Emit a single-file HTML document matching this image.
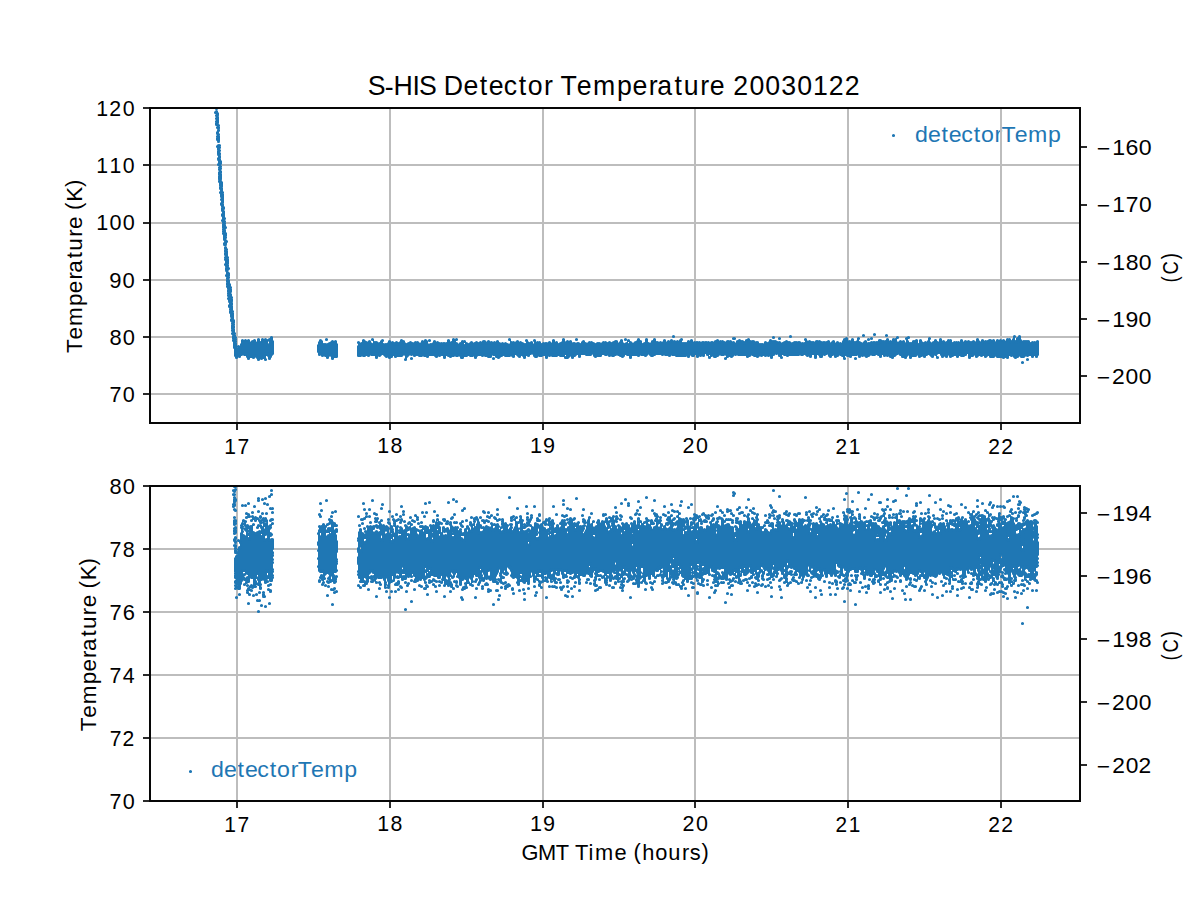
<!DOCTYPE html>
<html><head><meta charset="utf-8"><title>S-HIS Detector Temperature 20030122</title>
<style>html,body{margin:0;padding:0;background:#fff;overflow:hidden}svg{display:block}text{font-family:"Liberation Sans",sans-serif;font-size:100px}</style></head>
<body><svg width="1200" height="900" viewBox="0 0 1200 900">
<defs><clipPath id="ct"><rect x="150" y="108" width="930" height="315"/></clipPath><clipPath id="cb"><rect x="150" y="486" width="930" height="315"/></clipPath></defs>
<rect width="1200" height="900" fill="#fff"/>
<g><text transform="matrix(0.23125 0 0 0.21351 916 142.41)" x="-4.81 51.79 110.3 142 195.6 249.7 281 339.5 369.8 427.6 484.9 571" y="0" fill="#1f77b4">detectorTemp</text><text transform="matrix(0.23141 0 0 0.21351 212.1 777.41)" x="-4.81 51.79 110.3 142 195.6 249.7 281 339.5 369.8 427.6 484.9 571" y="0" fill="#1f77b4">detectorTemp</text></g>
<path fill="#bdbdbd" d="M236 108h2V423h-2zM389 108h2V423h-2zM542 108h2V423h-2zM694 108h2V423h-2zM847 108h2V423h-2zM1000 108h2V423h-2zM150 164H1079v2H150zM150 222H1079v2H150zM150 279H1079v2H150zM150 336H1079v2H150zM150 393H1079v2H150zM236 486h2V801h-2zM389 486h2V801h-2zM542 486h2V801h-2zM694 486h2V801h-2zM847 486h2V801h-2zM1000 486h2V801h-2zM150 548H1079v2H150zM150 611H1079v2H150zM150 674H1079v2H150zM150 737H1079v2H150z"/>
<g clip-path="url(#ct)"><path fill="#1f77b4" d="M238 347h1h1V345h1V341h1h1h1h1h1h1h1h1h1V343h1V342h1h1V341h1h1h1V343h1V340h1h1h1V343h1V340h1h1h1h1h1h1V341h1V345h1V340h1V338h1h1h1V342h1V353h-1V354h-1V356h-1V358h-1h-1h-1V355h-1V354h-1V359h-1h-1V357h-1V358h-1h-1h-1V359h-1h-1h-1V357h-1V356h-1V357h-1h-1h-1V356h-1h-1V358h-1h-1h-1V356h-1V354h-1h-1h-1h-1h-1V356h-1h-1h-1zM317 346h1V343h1V341h1h1h1V342h1V345h1h1h1h1h1V344h1h1V343h1V342h1h1h1h1h1h1V345h1V356h-1h-1h-1h-1V358h-1h-1h-1V355h-1h-1V357h-1h-1h-1V355h-1h-1h-1h-1h-1V354h-1h-1h-1V351h-1zM357 347h1V343h1h1V344h1h1V341h1h1h1V342h1V343h1h1V342h1h1h1V344h1V345h1V340h1V343h1h1h1h1V344h1h1V342h1V341h1h1V345h1h1h1h1V344h1V342h1h1h1V343h1h1h1V344h1V343h1h1h1V344h1V343h1V341h1h1h1V342h1h1V344h1V345h1V344h1h1V343h1h1h1V344h1h1V343h1h1h1h1h1V344h1h1V342h1h1h1V341h1h1h1V342h1V345h1h1h1h1V344h1V342h1h1h1V343h1h1h1V344h1h1h1h1h1h1h1h1V341h1h1h1V343h1h1V340h1h1h1h1V344h1h1V345h1V344h1h1V342h1h1h1V346h1V342h1V344h1h1V345h1V344h1V343h1h1h1V344h1h1V343h1h1h1V344h1V343h1h1h1V342h1h1h1h1V343h1V342h1h1h1V343h1h1h1h1h1h1V342h1h1h1V344h1h1h1h1h1h1h1h1V345h1h1h1V340h1V343h1h1h1h1h1V342h1h1h1V343h1h1h1V344h1h1V345h1h1V341h1h1V343h1V344h1V343h1h1h1V345h1V341h1h1V343h1h1h1h1h1V345h1V344h1h1h1h1h1h1V343h1h1h1V344h1V341h1h1h1V343h1h1h1V345h1V344h1h1V343h1V340h1h1h1V343h1V342h1h1h1h1h1h1V344h1h1h1h1h1h1h1h1V345h1V343h1V342h1h1h1V344h1h1h1V343h1h1h1h1h1V344h1h1V345h1V344h1h1h1h1h1h1V343h1h1h1h1h1V344h1V343h1h1h1V344h1V343h1h1V342h1h1h1h1V344h1V343h1V341h1h1h1V344h1V345h1V344h1h1V341h1V345h1V341h1V343h1h1V344h1h1V343h1h1V342h1V340h1h1h1V342h1h1V345h1V344h1h1V340h1h1h1V344h1h1h1V342h1h1V340h1h1h1V343h1h1h1h1h1h1h1V341h1h1h1V343h1V342h1h1h1V341h1h1h1V342h1h1h1h1h1h1V341h1V340h1h1V344h1h1h1h1h1V342h1h1h1V341h1h1h1V343h1h1h1h1h1h1h1h1h1h1h1h1h1h1h1h1h1h1h1h1h1V342h1h1V341h1h1h1V342h1h1h1h1h1V343h1h1V342h1h1h1h1h1h1V343h1h1h1V344h1V342h1h1V341h1h1h1V342h1h1h1V343h1V341h1h1V340h1h1h1V342h1h1h1h1h1V343h1h1h1h1V345h1h1h1h1h1V343h1h1h1V344h1V343h1V341h1h1h1V342h1h1h1h1h1V343h1h1h1h1V344h1h1V343h1h1V342h1h1h1V343h1h1h1V344h1h1V343h1h1h1h1h1h1h1h1V344h1h1h1h1V340h1h1V342h1h1h1h1V343h1h1h1h1V342h1h1h1h1h1h1V343h1h1h1h1h1h1V342h1h1h1V344h1V343h1V342h1h1h1V344h1V343h1h1h1V344h1h1h1V342h1V340h1h1V339h1h1h1V342h1h1h1V340h1h1h1V343h1h1V342h1V339h1h1V343h1h1V344h1h1V343h1V342h1h1h1V344h1h1h1V343h1h1h1h1h1h1h1h1V341h1h1h1h1V342h1h1h1h1V340h1h1h1V342h1h1h1V340h1h1h1h1V338h1V343h1h1V342h1h1h1h1h1h1V344h1V339h1V338h1V342h1V344h1h1h1V342h1h1h1V341h1h1h1V345h1V341h1h1h1V343h1V344h1V343h1h1h1V342h1V339h1h1V343h1V344h1V343h1h1V341h1h1h1V343h1h1V340h1h1h1V342h1h1h1V343h1h1V341h1h1h1h1h1V344h1V343h1h1h1h1h1h1h1V341h1h1h1V343h1V342h1h1h1h1h1h1V343h1h1V342h1h1h1V343h1V340h1h1h1V342h1V343h1V341h1h1h1V342h1h1h1h1V341h1h1h1h1h1h1h1V343h1V341h1h1h1h1h1h1h1h1h1V342h1V340h1h1h1h1h1V342h1V340h1V337h1h1V342h1V339h1h1V337h1h1h1V341h1V342h1h1h1h1h1h1h1h1V344h1V343h1h1h1h1h1V342h1h1h1V354h-1V356h-1h-1h-1V354h-1V356h-1h-1h-1V354h-1h-1V355h-1h-1h-1h-1V356h-1h-1h-1h-1h-1V355h-1V356h-1h-1V357h-1h-1h-1V356h-1V355h-1h-1h-1V354h-1V357h-1h-1h-1V356h-1V357h-1h-1h-1V356h-1h-1h-1h-1h-1h-1V355h-1V356h-1h-1h-1h-1h-1h-1V354h-1V355h-1V356h-1h-1h-1V354h-1V355h-1h-1h-1V354h-1V355h-1V356h-1h-1h-1V354h-1V355h-1h-1h-1V357h-1h-1h-1V352h-1V354h-1h-1V355h-1h-1h-1h-1h-1V354h-1V356h-1h-1h-1V354h-1h-1V355h-1h-1V356h-1h-1h-1V354h-1V356h-1h-1h-1V355h-1V356h-1h-1h-1V354h-1V352h-1h-1V353h-1V357h-1V354h-1h-1V356h-1h-1h-1V355h-1V354h-1V353h-1V354h-1h-1V356h-1h-1h-1V355h-1h-1V356h-1h-1h-1V354h-1V355h-1h-1h-1h-1h-1V357h-1h-1h-1V354h-1V355h-1V357h-1h-1h-1V356h-1h-1h-1V354h-1h-1V353h-1h-1V354h-1V355h-1h-1V357h-1h-1h-1V356h-1h-1V355h-1h-1h-1h-1h-1h-1V353h-1V356h-1h-1h-1V354h-1h-1V353h-1V354h-1h-1h-1h-1h-1h-1V355h-1h-1V356h-1h-1h-1V355h-1h-1h-1h-1V356h-1h-1h-1V354h-1h-1h-1h-1h-1h-1V356h-1h-1h-1V355h-1h-1h-1V354h-1V358h-1h-1V355h-1h-1V354h-1h-1V355h-1h-1V356h-1h-1h-1V354h-1h-1V356h-1h-1h-1V355h-1V353h-1h-1V354h-1h-1h-1V356h-1h-1h-1h-1V354h-1V353h-1V357h-1h-1h-1V353h-1h-1V356h-1h-1h-1V355h-1h-1h-1V354h-1V353h-1V354h-1h-1h-1h-1h-1h-1h-1h-1h-1h-1h-1h-1h-1h-1h-1V355h-1h-1h-1V354h-1h-1h-1V353h-1V357h-1h-1V355h-1h-1V353h-1h-1h-1V354h-1h-1V357h-1h-1h-1V355h-1h-1h-1h-1h-1h-1V354h-1V355h-1h-1h-1h-1V356h-1h-1h-1V355h-1h-1h-1V354h-1h-1V355h-1h-1V356h-1h-1h-1V354h-1h-1h-1h-1h-1h-1h-1h-1h-1h-1h-1h-1V355h-1V356h-1h-1h-1V355h-1V356h-1h-1V358h-1V354h-1h-1h-1h-1h-1h-1h-1V355h-1h-1V356h-1h-1h-1h-1V355h-1h-1V357h-1V353h-1V357h-1V354h-1h-1V352h-1V355h-1h-1h-1h-1h-1h-1V356h-1h-1h-1V353h-1V355h-1h-1h-1h-1V354h-1V356h-1h-1h-1V355h-1h-1h-1h-1h-1h-1h-1h-1h-1h-1h-1h-1V354h-1h-1h-1h-1V355h-1h-1h-1V354h-1h-1h-1h-1h-1h-1h-1V353h-1h-1h-1h-1h-1V354h-1h-1V355h-1h-1h-1h-1V354h-1V353h-1V354h-1V355h-1h-1h-1V354h-1h-1h-1h-1V355h-1h-1h-1V354h-1h-1h-1h-1h-1V357h-1h-1h-1V354h-1h-1h-1V353h-1V355h-1V356h-1h-1h-1V355h-1h-1V354h-1h-1h-1h-1V355h-1h-1h-1h-1h-1h-1h-1V354h-1h-1h-1h-1V353h-1h-1V355h-1h-1h-1h-1h-1V356h-1h-1h-1V355h-1V353h-1V354h-1h-1h-1h-1h-1h-1h-1V353h-1h-1h-1h-1V356h-1h-1h-1V353h-1V354h-1V355h-1h-1V357h-1h-1h-1V355h-1V356h-1V357h-1h-1h-1V353h-1V357h-1V355h-1h-1h-1h-1h-1V354h-1V355h-1h-1h-1h-1h-1h-1h-1h-1h-1h-1V357h-1h-1h-1V354h-1h-1V355h-1h-1h-1h-1h-1V356h-1h-1h-1h-1V355h-1V353h-1h-1h-1V355h-1h-1h-1V354h-1V357h-1h-1h-1V355h-1V354h-1V356h-1h-1h-1V355h-1V354h-1V353h-1V356h-1h-1h-1V355h-1h-1h-1h-1h-1h-1h-1h-1V354h-1V355h-1h-1V356h-1V357h-1h-1h-1V356h-1h-1V354h-1h-1h-1V356h-1h-1h-1h-1h-1V355h-1h-1h-1h-1h-1h-1V354h-1h-1h-1V355h-1V357h-1h-1h-1V355h-1h-1h-1h-1h-1V354h-1V355h-1h-1h-1h-1V357h-1h-1h-1h-1V355h-1h-1h-1h-1h-1h-1h-1h-1V356h-1h-1h-1V355h-1h-1V354h-1V357h-1h-1h-1V354h-1h-1V355h-1h-1h-1V356h-1h-1h-1V355h-1V354h-1h-1h-1h-1h-1V356h-1h-1h-1V355h-1h-1h-1h-1h-1h-1h-1h-1V354h-1h-1V355h-1h-1h-1V354h-1h-1h-1h-1V355h-1V356h-1V359h-1h-1V354h-1h-1V355h-1h-1h-1h-1h-1h-1V356h-1h-1h-1V354h-1V356h-1h-1V357h-1h-1h-1V356h-1h-1h-1V355h-1V354h-1V353h-1V354h-1V355h-1h-1h-1V357h-1h-1h-1V354h-1h-1h-1h-1h-1V355h-1h-1h-1V354h-1V355h-1h-1h-1h-1h-1h-1h-1h-1h-1z"/><path fill="none" stroke="#1f77b4" stroke-width="3.2" stroke-linecap="round" d="M215.5 112.5h0m1-4h0m0 3h0m0 1h0m0 3h0m0 3h0m0 3h0m0 2h0m0 1h0m1-17h0m0 6h0m0 1h0m0 1h0m0 2h0m0 1h0m0 1h0m0 1h0m0 1h0m0 1h0m0 2h0m0 3h0m0 5h0m0 1h0m0 3h0m0 2h0m0 1h0m0 7h0m1-21h0m0 2h0m0 1h0m0 2h0m0 4h0m0 2h0m0 1h0m0 1h0m0 1h0m0 1h0m0 1h0m0 4h0m0 2h0m0 1h0m0 1h0m0 2h0m0 1h0m0 1h0m0 1h0m0 4h0m0 1h0m0 5h0m1-19h0m0 2h0m0 3h0m0 3h0m0 1h0m0 2h0m0 1h0m0 2h0m0 2h0m0 1h0m0 2h0m0 3h0m0 2h0m0 3h0m0 1h0m0 1h0m0 2h0m0 1h0m0 1h0m0 1h0m0 2h0m1-20h0m0 1h0m0 1h0m0 3h0m0 2h0m0 3h0m0 1h0m0 2h0m0 1h0m0 1h0m0 1h0m0 1h0m0 1h0m0 2h0m0 2h0m0 1h0m0 1h0m0 2h0m0 1h0m0 4h0m1-10h0m0 1h0m0 1h0m0 1h0m0 1h0m0 2h0m0 1h0m0 1h0m0 1h0m0 2h0m0 1h0m0 1h0m0 1h0m0 3h0m0 4h0m0 1h0m1-12h0m0 2h0m0 1h0m0 1h0m0 1h0m0 1h0m0 1h0m0 1h0m0 1h0m0 1h0m0 2h0m0 1h0m0 1h0m0 2h0m0 1h0m0 1h0m0 4h0m0 1h0m0 5h0m1-13h0m0 1h0m0 3h0m0 1h0m0 1h0m0 1h0m0 1h0m0 1h0m0 1h0m0 1h0m0 1h0m0 1h0m0 1h0m0 1h0m0 2h0m0 1h0m0 1h0m0 1h0m0 2h0m0 2h0m0 2h0m1-15h0m0 3h0m0 2h0m0 2h0m0 1h0m0 1h0m0 1h0m0 2h0m0 1h0m0 1h0m0 1h0m0 2h0m0 1h0m0 1h0m0 1h0m0 1h0m0 4h0m0 1h0m1-17h0m0 6h0m0 1h0m0 1h0m0 2h0m0 3h0m0 1h0m0 2h0m0 1h0m0 3h0m0 1h0m0 2h0m0 1h0m0 2h0m0 1h0m0 3h0m0 2h0m0 5h0m1-23h0m0 8h0m0 2h0m0 1h0m0 1h0m0 1h0m0 1h0m0 1h0m0 1h0m0 1h0m0 1h0m0 2h0m0 1h0m0 2h0m0 1h0m0 1h0m0 2h0m0 1h0m0 1h0m0 5h0m1-18h0m0 2h0m0 1h0m0 1h0m0 1h0m0 1h0m0 2h0m0 1h0m0 2h0m0 1h0m0 3h0m0 1h0m0 1h0m0 1h0m0 1h0m0 2h0m0 2h0m0 1h0m0 2h0m0 1h0m0 2h0m1-18h0m0 5h0m0 1h0m0 1h0m0 2h0m0 3h0m0 1h0m0 1h0m0 1h0m0 2h0m0 1h0m0 2h0m0 2h0m0 1h0m0 2h0m0 2h0m0 3h0m1-14h0m0 1h0m0 1h0m0 1h0m0 2h0m0 1h0m0 1h0m0 1h0m0 1h0m0 1h0m0 2h0m0 1h0m0 1h0m0 1h0m0 1h0m0 1h0m0 4h0m0 1h0m1-19h0m0 2h0m0 1h0m0 1h0m0 3h0m0 1h0m0 1h0m0 1h0m0 1h0m0 2h0m0 1h0m0 2h0m0 3h0m0 1h0m0 2h0m0 2h0m0 1h0m1-15h0m0 2h0m0 1h0m0 1h0m0 2h0m0 1h0m0 2h0m0 1h0m0 1h0m0 1h0m0 1h0m0 1h0m0 1h0m0 1h0m0 1h0m0 1h0m0 1h0m0 3h0m0 1h0m1-9h0m0 2h0m0 1h0m0 1h0m0 1h0m0 1h0m0 1h0m0 1h0m0 1h0m0 1h0m0 2h0m0 2h0m0 1h0m0 1h0m0 1h0m0 2h0m0 3h0m1-13h0m0 1h0m0 1h0m0 2h0m0 2h0m0 1h0m0 2h0m0 1h0m0 1h0m0 1h0m0 2h0m0 2h0m0 1h0m0 1h0m0 2h0m1-7h0m0 2h0m0 1h0m0 1h0m0 1h0m0 1h0m0 1h0m0 1h0m0 1h0m0 1h0m0 1h0m0 1h0m0 1h0m0 1h0m1-10h0m0 2h0m0 2h0m0 2h0m0 1h0m0 1h0m0 1h0m0 1h0m0 1h0m0 1h0m0 1h0m0 1h0m0 1h0m0 1h0m0 1h0m0 1h0m1-6h0m0 1h0m0 1h0m0 1h0m0 1h0m0 1h0m0 1h0m0 2h0m1-8h0m0 1h0m0 1h0m0 1h0m0 1h0m0 1h0m0 1h0m1-9h0m0 2h0m0 1h0m0 1h0m0 1h0m0 1h0m0 1h0m0 2h0m1 0h0m0 1h0m1-9h0m0 6h0m0 1h0m1-10h0m0 1h0m0 8h0m0 1h0m1-14h0m0 13h0m1 0h0m1 0h0m0 1h0m1-14h0m1 13h0m0 1h0m1 1h0m0 1h0m1-16h0m0 18h0m1-16h0m0 13h0m0 1h0m1-1h0m1-12h0m0 12h0m0 1h0m1-15h0m0 1h0m0 13h0m1 2h0m1-17h0m0 15h0m1-13h0m0 1h0m0 12h0m1 1h0m1-13h0m0 14h0m1-18h0m0 20h0m1-16h0m0 14h0m1-15h0m0 1h0m1 0h0m0 15h0m1-19h0m1 17h0m0 1h0m1-17h0m0 17h0m1-18h0m0 14h0m0 1h0m0 5h0m1-6h0m1-13h0m0 4h0m0 1h0m0 8h0m0 1h0m1-9h0m0 10h0m1-16h0m0 5h0m0 14h0m1-3h0m0 1h0m1-19h0m0 1h0m0 15h0m0 1h0m1-13h0m0 11h0m0 1h0m46-8h0m0 5h0m0 1h0m1-9h0m0 12h0m1-14h0m0 13h0m1-12h0m0 12h0m1-9h0m0 1h0m0 9h0m0 1h0m1-11h0m0 1h0m0 9h0m1-10h0m0 1h0m1-1h0m0 11h0m1-16h0m0 6h0m1-1h0m0 1h0m0 12h0m1-13h0m0 1h0m0 9h0m0 1h0m1-12h0m0 1h0m0 10h0m1-11h0m0 1h0m0 10h0m1-12h0m0 1h0m0 11h0m0 1h0m1-14h0m0 17h0m1-3h0m1 0h0m0 1h0m1-15h0m1 3h0m0 1h0m0 11h0m22-14h0m0 4h0m0 1h0m0 8h0m1-11h0m1 10h0m0 1h0m1-12h0m1 0h0m0 11h0m1-14h0m0 14h0m0 1h0m1-14h0m0 13h0m0 1h0m1-2h0m0 1h0m1-12h0m0 11h0m0 1h0m1-1h0m0 1h0m1 1h0m1-14h0m0 1h0m0 11h0m1-10h0m0 1h0m1 1h0m0 8h0m0 1h0m1-15h0m0 5h0m0 1h0m0 9h0m1-10h0m0 1h0m0 8h0m0 1h0m1-12h0m0 11h0m0 1h0m1-12h0m0 1h0m0 10h0m1-11h0m0 1h0m0 14h0m1-14h0m0 1h0m1 0h0m1-1h0m0 11h0m0 1h0m1-11h0m0 9h0m0 1h0m1-13h0m0 11h0m0 1h0m1-13h0m0 4h0m0 8h0m1-8h0m0 1h0m0 7h0m0 1h0m1-8h0m0 8h0m0 1h0m1-10h0m0 10h0m0 1h0m1-11h0m0 1h0m0 11h0m1-12h0m0 1h0m1-2h0m0 12h0m1-14h0m0 16h0m2-1h0m1-14h0m0 11h0m1-10h0m0 10h0m0 1h0m1-11h0m0 1h0m0 9h0m1 2h0m0 1h0m1-14h0m0 1h0m0 11h0m1-10h0m0 11h0m1-12h0m0 11h0m0 1h0m2-13h0m0 1h0m0 12h0m1-15h0m0 15h0m1-2h0m0 1h0m1-13h0m0 1h0m0 11h0m1-10h0m0 10h0m1-9h0m0 1h0m0 8h0m0 1h0m0 5h0m1-15h0m0 1h0m0 11h0m1-11h0m0 10h0m1-12h0m0 1h0m0 9h0m0 1h0m1-11h0m0 1h0m1-2h0m0 11h0m1-9h0m0 9h0m0 1h0m0 4h0m1-15h0m0 1h0m1 0h0m1-1h0m0 1h0m0 10h0m0 1h0m1-13h0m0 12h0m1-1h0m1-11h0m0 1h0m0 10h0m0 1h0m1-11h0m0 10h0m1 2h0m1-11h0m0 10h0m1-11h0m0 1h0m0 11h0m1-14h0m2 1h0m0 12h0m0 1h0m1-15h0m0 14h0m0 1h0m1-14h0m0 14h0m1-11h0m0 1h0m0 10h0m0 1h0m1-11h0m0 8h0m1-13h0m0 5h0m0 8h0m0 1h0m1-10h0m0 1h0m0 8h0m1-9h0m0 1h0m0 8h0m0 1h0m1-9h0m0 8h0m1-10h0m0 1h0m0 9h0m0 1h0m1-13h0m0 12h0m0 1h0m1 1h0m1-12h0m0 13h0m1-14h0m0 1h0m1 1h0m1-1h0m0 1h0m0 10h0m0 1h0m2-12h0m0 10h0m0 1h0m1 0h0m1-11h0m0 1h0m0 9h0m0 1h0m1-11h0m0 14h0m1-4h0m0 1h0m1-11h0m0 11h0m1-11h0m0 1h0m1-4h0m0 14h0m0 1h0m1-1h0m1-11h0m0 13h0m1-14h0m0 13h0m1-13h0m1-3h0m0 16h0m1-1h0m1-10h0m1-5h0m0 4h0m0 11h0m0 1h0m1-11h0m0 1h0m0 10h0m1-10h0m1 0h0m1-2h0m0 1h0m0 10h0m0 1h0m1-11h0m0 13h0m1-16h0m0 16h0m1-12h0m0 1h0m0 9h0m1-14h0m0 4h0m0 1h0m0 9h0m1-10h0m0 1h0m0 8h0m0 1h0m1-12h0m0 12h0m1-11h0m0 9h0m0 1h0m1-10h0m0 1h0m0 8h0m0 1h0m1-9h0m0 8h0m1-10h0m0 1h0m0 11h0m1-13h0m1 2h0m0 10h0m0 1h0m1-11h0m1-1h0m1 1h0m0 13h0m1-15h0m0 12h0m0 1h0m1-12h0m0 1h0m1-1h0m0 1h0m0 9h0m0 1h0m1-10h0m0 9h0m0 1h0m1-12h0m0 12h0m1-1h0m1-10h0m0 11h0m0 1h0m1-14h0m0 13h0m1-13h0m1 13h0m0 1h0m1-12h0m0 11h0m1-12h0m0 13h0m1-14h0m0 14h0m0 1h0m1-14h0m1 14h0m1-14h0m0 1h0m0 10h0m2 1h0m0 4h0m1-16h0m0 11h0m1-10h0m0 10h0m0 1h0m1 2h0m1-15h0m0 1h0m0 14h0m1-12h0m0 13h0m1-14h0m0 13h0m1-2h0m1-10h0m0 10h0m0 1h0m1-12h0m0 1h0m0 9h0m1-9h0m0 9h0m0 1h0m1-10h0m1-1h0m0 1h0m0 10h0m0 1h0m1-11h0m0 1h0m0 10h0m1-11h0m0 1h0m0 10h0m1-10h0m0 10h0m1-16h0m0 6h0m0 10h0m1-11h0m0 1h0m1-3h0m0 1h0m1 12h0m1-13h0m0 14h0m1-13h0m0 9h0m1 0h0m0 1h0m1-11h0m0 1h0m0 10h0m1-12h0m0 12h0m0 1h0m1-11h0m0 11h0m0 1h0m1 1h0m1-14h0m0 1h0m0 10h0m0 1h0m1-11h0m0 1h0m1-1h0m0 10h0m0 1h0m1-10h0m0 1h0m0 9h0m0 1h0m1-11h0m0 1h0m0 11h0m0 1h0m1-13h0m0 1h0m0 8h0m1-13h0m0 5h0m0 8h0m0 1h0m1-12h0m0 1h0m0 10h0m1-10h0m0 1h0m0 10h0m0 1h0m1-12h0m0 9h0m0 1h0m1-10h0m0 1h0m0 9h0m1-11h0m1 2h0m0 1h0m0 7h0m1-7h0m0 7h0m0 1h0m1-13h0m0 5h0m0 9h0m0 1h0m1-12h0m0 13h0m1 0h0m1-14h0m0 1h0m0 11h0m2-12h0m0 1h0m0 11h0m0 1h0m1-11h0m0 1h0m0 9h0m1-10h0m0 1h0m0 10h0m1-11h0m0 1h0m0 8h0m0 1h0m1-11h0m0 1h0m0 9h0m0 1h0m1-10h0m1-1h0m0 1h0m0 9h0m0 1h0m1-11h0m0 14h0m1-3h0m1-11h0m0 1h0m1-2h0m0 1h0m0 12h0m1-11h0m1 0h0m0 10h0m1-11h0m0 1h0m0 11h0m1-15h0m1 14h0m0 1h0m1-1h0m1-12h0m0 12h0m0 1h0m1-11h0m0 1h0m0 8h0m1-9h0m0 1h0m0 8h0m0 1h0m1-9h0m0 9h0m1-11h0m0 1h0m0 10h0m0 1h0m1-12h0m0 1h0m0 11h0m1-13h0m0 1h0m0 12h0m1-16h0m0 1h0m0 15h0m1-13h0m0 1h0m0 9h0m0 1h0m1-10h0m0 9h0m0 1h0m0 4h0m1-15h0m0 10h0m0 1h0m1-12h0m0 16h0m1-1h0m2-15h0m0 1h0m1 1h0m0 1h0m0 11h0m1-11h0m0 13h0m1-14h0m0 1h0m1-1h0m0 1h0m0 11h0m1-11h0m0 9h0m0 1h0m1-15h0m0 13h0m1-9h0m0 1h0m0 8h0m0 1h0m1-10h0m0 1h0m0 8h0m0 1h0m1-9h0m0 1h0m0 11h0m1-12h0m0 1h0m0 7h0m1-8h0m0 1h0m0 7h0m0 1h0m1-11h0m0 10h0m1-11h0m0 11h0m0 1h0m1-10h0m0 1h0m0 8h0m0 1h0m1-10h0m0 9h0m0 1h0m1 1h0m1-10h0m0 10h0m1-11h0m0 1h0m0 9h0m0 1h0m1-12h0m1 11h0m0 1h0m1-12h0m0 10h0m0 1h0m1-9h0m0 8h0m1-9h0m0 1h0m0 8h0m1-7h0m0 9h0m0 1h0m1-11h0m0 1h0m0 10h0m0 1h0m1-12h0m0 11h0m1-12h0m0 1h0m0 11h0m1-12h0m0 1h0m1-1h0m0 1h0m0 10h0m0 1h0m1-11h0m0 11h0m1-11h0m1-1h0m0 1h0m0 8h0m0 1h0m1-11h0m0 1h0m0 9h0m0 1h0m1-1h0m1-10h0m0 1h0m0 10h0m0 1h0m1-11h0m0 1h0m0 9h0m0 1h0m1-11h0m0 10h0m1-10h0m0 1h0m1-2h0m0 1h0m0 12h0m1-1h0m1-11h0m1 0h0m0 1h0m0 11h0m1-13h0m0 1h0m0 12h0m2-14h0m0 12h0m0 1h0m1-13h0m0 1h0m0 11h0m1-10h0m0 10h0m1-9h0m0 10h0m1-10h0m0 9h0m1-11h0m0 1h0m0 12h0m1-15h0m0 14h0m1-11h0m0 1h0m0 11h0m0 1h0m1-12h0m0 1h0m0 9h0m0 1h0m1-11h0m0 1h0m0 7h0m0 1h0m1-14h0m0 5h0m0 1h0m0 7h0m1-9h0m0 1h0m0 8h0m0 1h0m1-9h0m0 1h0m0 9h0m1-14h0m0 4h0m0 1h0m0 8h0m0 1h0m1-10h0m0 1h0m0 8h0m1-11h0m0 15h0m1-14h0m0 1h0m0 9h0m0 1h0m1-10h0m1 0h0m0 9h0m0 1h0m1-11h0m0 1h0m0 9h0m1-11h0m0 12h0m1-12h0m0 11h0m0 1h0m1-13h0m0 12h0m0 1h0m1-15h0m0 15h0m0 1h0m1-13h0m0 11h0m1-12h0m0 12h0m1-8h0m0 9h0m1-10h0m0 1h0m0 8h0m1-9h0m0 1h0m0 9h0m1-11h0m0 1h0m0 9h0m0 1h0m1 0h0m0 1h0m1-16h0m0 14h0m0 1h0m1-10h0m0 8h0m1-9h0m0 1h0m0 8h0m1-8h0m0 9h0m1-9h0m0 10h0m1-11h0m0 1h0m0 11h0m1-14h0m0 13h0m0 1h0m1-2h0m1-14h0m0 15h0m1-12h0m0 1h0m0 10h0m1-11h0m0 10h0m1-10h0m0 1h0m0 9h0m0 1h0m1-10h0m0 9h0m0 1h0m1-10h0m0 9h0m1-10h0m0 1h0m0 10h0m1-1h0m0 1h0m1 0h0m0 1h0m1-12h0m0 11h0m1-13h0m1 2h0m0 11h0m0 1h0m1-11h0m0 10h0m0 1h0m1-11h0m0 10h0m1-12h0m0 1h0m0 12h0m1-12h0m0 12h0m0 1h0m1-2h0m1-13h0m1 1h0m0 12h0m0 1h0m1-18h0m0 17h0m0 1h0m1-13h0m0 12h0m1 0h0m0 1h0m1 1h0m1-14h0m0 1h0m1 13h0m1-13h0m1-2h0m0 15h0m1-16h0m0 4h0m0 1h0m0 11h0m1-12h0m0 1h0m0 10h0m1-11h0m0 1h0m0 10h0m0 1h0m1-12h0m0 1h0m1-1h0m0 1h0m0 11h0m1-12h0m0 1h0m1-1h0m0 1h0m0 10h0m1-13h0m0 15h0m1-3h0m1 0h0m1-13h0m0 13h0m0 1h0m1-11h0m0 12h0m1-12h0m0 11h0m0 1h0m1-13h0m0 10h0m1-9h0m0 9h0m0 1h0m1-11h0m0 10h0m0 1h0m1-11h0m0 1h0m0 13h0m1-2h0m1-12h0m0 1h0m1 0h0m0 12h0m1-12h0m0 11h0m1-12h0m0 12h0m1-12h0m0 12h0m0 1h0m1-12h0m0 8h0m0 1h0m1-10h0m0 1h0m0 8h0m0 1h0m1-10h0m0 1h0m0 8h0m0 1h0m1 2h0m1-12h0m0 10h0m1 1h0m0 4h0m1-14h0m1-1h0m0 13h0m1-13h0m0 1h0m1 0h0m0 11h0m1 2h0m1-15h0m0 14h0m0 1h0m2-16h0m0 14h0m0 1h0m1-2h0m0 1h0m1-12h0m0 11h0m1-12h0m1 12h0m0 1h0m1-13h0m0 12h0m1 0h0m0 1h0m1-12h0m0 1h0m1 15h0m1-15h0m0 10h0m0 1h0m1-13h0m0 15h0m1-15h0m0 13h0m1 0h0m0 1h0m1-14h0m0 13h0m1-12h0m0 13h0m0 1h0m1-13h0m0 11h0m0 1h0m1-17h0m0 4h0m0 11h0m1-15h0m0 15h0m1-9h0m0 10h0m1-11h0m0 1h0m0 9h0m1-12h0m0 1h0m1 11h0m0 1h0m1-14h0m0 14h0m1-1h0m0 1h0m1-13h0m0 13h0m1-13h0m1 13h0m1-12h0m0 1h0m0 10h0m1 0h0m0 1h0m1-14h0m0 14h0m1 2h0m1-17h0m1 16h0m1-14h0m1 12h0m1-12h0m0 1h0m0 12h0m1-13h0m0 12h0m1-11h0m0 1h0m0 12h0m1-12h0m0 11h0m1-12h0m0 1h0m0 12h0m1-13h0m0 1h0m0 13h0m1-12h0m0 1h0m0 9h0m0 1h0m1-11h0m0 1h0m1-1h0m0 1h0m1-1h0m0 11h0m1-11h0m0 1h0m0 8h0m0 1h0m1-9h0m0 8h0m0 1h0m1-10h0m0 1h0m1-3h0m0 1h0m0 12h0m1-12h0m1 0h0m0 11h0m1-11h0m0 12h0m1-13h0m1-2h0m0 14h0m1-13h0m0 16h0m1-16h0m0 12h0m1-16h0m0 4h0m0 1h0m0 11h0m0 1h0m1-13h0m0 1h0m0 10h0m1-11h0m0 11h0m1 0h0m0 1h0m1-11h0m0 1h0m0 9h0m1-9h0m0 9h0m1-14h0m0 4h0m0 1h0m0 11h0m0 1h0m1-1h0m0 1h0m1-11h0m0 8h0m0 1h0m0 4h0m1-14h0m0 1h0m0 8h0m0 1h0m1-10h0m0 1h0m0 8h0m1-10h0m0 11h0m0 1h0m1-1h0m1-12h0m0 1h0m0 11h0m0 1h0m1-11h0m0 12h0m1-13h0m0 1h0m0 11h0m1-12h0m0 1h0m1-7h0m0 7h0m0 1h0m0 9h0m0 1h0m1-10h0m0 9h0m1-10h0m0 1h0m0 10h0m1-1h0m0 1h0m1-12h0m0 1h0m0 10h0m0 1h0m1-12h0m0 1h0m1-1h0m0 11h0m0 1h0m1-11h0m1-1h0m0 12h0m1-12h0m0 1h0m0 10h0m1-10h0m0 1h0m0 9h0m1-9h0m0 10h0m1-11h0m0 1h0m0 9h0m0 1h0m1-10h0m0 9h0m1-10h0m0 1h0m0 8h0m0 1h0m1-14h0m0 5h0m0 8h0m1-11h0m0 1h0m0 12h0m1 1h0m1-13h0m1-1h0m0 13h0m1-11h0m0 13h0m1-14h0m0 10h0m0 1h0m1-11h0m0 10h0m0 1h0m1-11h0m0 1h0m0 10h0m1-1h0m0 1h0m1 4h0m1-16h0m0 1h0m0 10h0m0 1h0m1-12h0m0 11h0m0 1h0m1 0h0m1-12h0m0 12h0m0 1h0m1-11h0m0 13h0m1-14h0m0 1h0m0 13h0m1-3h0m1-11h0m1 0h0m0 1h0m0 11h0m1-2h0m1-10h0m0 1h0m0 9h0m0 1h0m1-11h0m0 10h0m1-11h0m0 11h0m1-9h0m0 1h0m0 10h0m0 1h0m1-11h0m0 12h0m1-13h0m0 1h0m0 9h0m1-11h0m0 12h0m1-13h0m2 3h0m0 12h0m1-13h0m0 1h0m0 10h0m0 1h0m1-13h0m0 1h0m0 12h0m1-12h0m0 10h0m1-9h0m0 9h0m1-10h0m0 1h0m0 9h0m0 1h0m1-10h0m0 9h0m1-9h0m0 11h0m1-14h0m0 13h0m0 1h0m1-16h0m0 14h0m0 1h0m0 4h0m1-5h0m0 1h0m1-16h0m0 15h0m1-12h0m0 13h0m0 1h0m1 0h0m1-14h0m0 13h0m1-12h0m0 14h0m1-15h0m0 12h0m1-14h0m0 15h0m2-12h0m0 1h0m0 11h0m1-12h0m0 1h0m0 10h0m0 1h0m0 4h0m1-15h0m0 10h0m0 1h0m1-13h0m0 12h0m1-15h0m0 5h0m1-1h0m0 1h0m0 13h0m1-12h0m0 10h0m1-11h0m0 1h0m1 0h0m0 11h0m1-20h0m0 9h0m1-2h0m0 1h0m1-2h0m0 14h0m1-12h0m0 13h0m1-12h0m1-5h0m0 4h0m0 1h0m0 11h0m1-12h0m0 1h0m0 9h0m0 1h0m1-11h0m0 1h0m0 9h0m1-15h0m0 4h0m0 11h0m1-10h0m0 10h0m0 1h0m1-12h0m0 1h0m0 11h0m1-20h0m0 8h0m0 1h0m0 11h0m1-11h0m0 10h0m1-11h0m0 11h0m1-11h0m0 10h0m1-9h0m0 10h0m0 1h0m1-14h0m1 0h0m0 15h0m0 1h0m1-14h0m0 10h0m0 1h0m1-12h0m0 11h0m1-11h0m0 1h0m0 10h0m0 1h0m1-11h0m0 13h0m1-14h0m0 1h0m0 12h0m1-19h0m1 4h0m0 1h0m0 14h0m0 1h0m2-13h0m0 12h0m1-13h0m0 15h0m2-14h0m0 15h0m1-18h0m1 16h0m1-16h0m0 15h0m1-12h0m0 1h0m0 9h0m0 1h0m1-16h0m0 6h0m0 9h0m0 1h0m1-10h0m1-1h0m0 1h0m0 9h0m1-11h0m0 1h0m0 11h0m0 1h0m1-12h0m1 14h0m1-15h0m1 2h0m0 1h0m0 12h0m1-12h0m0 13h0m1-19h0m0 5h0m0 11h0m0 1h0m1-14h0m0 12h0m1-16h0m0 6h0m0 1h0m0 9h0m1-10h0m0 1h0m0 10h0m1-11h0m0 1h0m0 13h0m1-14h0m0 1h0m1-1h0m0 1h0m0 11h0m1-14h0m0 1h0m1-1h0m0 13h0m0 1h0m1-13h0m0 13h0m1-15h0m0 13h0m0 1h0m1-10h0m0 1h0m0 8h0m1-9h0m0 1h0m0 8h0m1-9h0m0 1h0m0 11h0m1-16h0m0 15h0m1-13h0m0 1h0m0 12h0m1-11h0m1-1h0m0 1h0m1-1h0m0 1h0m0 12h0m1-14h0m0 12h0m1-11h0m0 10h0m0 1h0m1-2h0m0 1h0m1-12h0m0 1h0m0 10h0m0 1h0m1-15h0m0 4h0m0 1h0m0 9h0m1-9h0m0 1h0m0 9h0m0 1h0m1-10h0m0 11h0m1-12h0m0 13h0m1-14h0m0 11h0m1-10h0m1-3h0m0 13h0m0 1h0m1-2h0m0 1h0m1-11h0m0 9h0m0 1h0m0 5h0m1-6h0m1-8h0m0 8h0m0 1h0m1-13h0m0 12h0m0 1h0m1 2h0m1-12h0m0 14h0m1-15h0m0 14h0m2-1h0m1-12h0m0 1h0m0 13h0m1-13h0m0 10h0m1-13h0m1 13h0m0 1h0m1-14h0m0 1h0m0 15h0m1-13h0m0 1h0m1-1h0m0 1h0m0 11h0m1-12h0m0 11h0m1-12h0m0 1h0m0 10h0m1-10h0m0 11h0m1-12h0m1 13h0m0 1h0m1-14h0m0 1h0m0 11h0m1-11h0m1 0h0m0 10h0m0 1h0m1-14h0m0 14h0m0 1h0m1-13h0m0 1h0m0 11h0m1-11h0m0 12h0m1-2h0m1-12h0m0 12h0m0 1h0m1-3h0m1 0h0m0 1h0m1-11h0m0 10h0m0 1h0m1 5h0m1-15h0m0 12h0m1-12h0m0 1h0m0 11h0m0 1h0m1-13h0m0 1h0m0 12h0m1-14h0m0 12h0m0 1h0m1-12h0m0 1h0m1 0h0m0 10h0m1-11h0m0 1h0m0 13h0m1-17h0m0 1h0m0 14h0m0 1h0m1-14h0m0 1h0m0 11h0m0 1h0m1-12h0m0 1h0m0 10h0m0 1h0m1-11h0m0 11h0m1-12h0m0 1h0m0 12h0m1-15h0m0 13h0m1 0h0m0 1h0m1-12h0m0 11h0m1-12h0m0 15h0m1-1h0m1-14h0m0 12h0m1-11h0m0 11h0m0 1h0m1-14h0m0 13h0m1-13h0m0 15h0m0 1h0m1 0h0m1-15h0m1-1h0m0 16h0m1-14h0m0 12h0m0 1h0m1-1h0m1-12h0m1-2h0m0 16h0m2 0h0m1-16h0m1 16h0m1-1h0m1-15h0m0 16h0m0 1h0m1-16h0m1 14h0m0 1h0m1-1h0m1-16h0m0 18h0m1-4h0m1-14h0m0 14h0m0 1h0m1-13h0m1 0h0m0 1h0m0 12h0m0 1h0m1-13h0m1-3h0m0 15h0m1-18h0m0 20h0m1-15h0m0 16h0m1-15h0m1-4h0m0 18h0m1-1h0m1-19h0m1 4h0m0 1h0m1 15h0m1 6h0m1-21h0m0 14h0m0 1h0m1-15h0m0 1h0m0 13h0m1-14h0m0 1h0m0 12h0m1-13h0m0 1h0m1-1h0m0 13h0m0 1h0m0 4h0m1-18h0m0 12h0m1-10h0m0 1h0m0 9h0m0 1h0m1-11h0m0 1h0m0 9h0m0 1h0m1-11h0m0 1h0m1-2h0m0 1h0m0 13h0m1-3h0m1-11h0m0 1h0m0 10h0m0 1h0m1-11h0m0 10h0m0 1h0m1-12h0m0 1h0m0 13h0m1-15h0m0 13h0"/></g><g clip-path="url(#cb)"><path fill="#1f77b4" d="M238 548h1h1V534h1V524h1V521h1V536h1h1V537h1V526h1h1V539h1V527h1h1h1V525h1V533h1h1V534h1V533h1h1V532h1h1h1V537h1V528h1V519h1V530h1V540h1h1V521h1V527h1V526h1V540h1h1h1h1V548h-1V580h-1h-1h-1h-1V577h-1V571h-1V582h-1h-1h-1V579h-1h-1h-1V588h-1h-1V584h-1V573h-1V577h-1V586h-1h-1V587h-1V577h-1h-1h-1V581h-1h-1V573h-1h-1V574h-1V570h-1h-1V580h-1V583h-1V588h-1h-1h-1zM318 531h1V527h1V537h1V527h1V525h1h1h1V527h1V537h1V536h1h1V529h1V535h1V521h1h1V523h1V531h1V530h1V536h1V542h1V551h-1V571h-1h-1h-1V582h-1V580h-1V575h-1V581h-1V582h-1V573h-1V572h-1V573h-1V574h-1V578h-1V584h-1V571h-1h-1h-1h-1V570h-1zM357 558h1V533h1V530h1V551h1V530h1V534h1h1V543h1V542h1V532h1V527h1h1h1h1h1h1V533h1h1V532h1h1h1V533h1h1V521h1V540h1V526h1h1h1V535h1h1V527h1V528h1V534h1V524h1V542h1V527h1V541h1V534h1V521h1V527h1h1V537h1h1h1V528h1V529h1V531h1h1V526h1h1V539h1V535h1h1V523h1V529h1h1V528h1h1h1V530h1V535h1V536h1V531h1h1h1V527h1V533h1V527h1h1V539h1h1V528h1V531h1V526h1h1V541h1V526h1h1V523h1V520h1V532h1V520h1V537h1V528h1V534h1V528h1V536h1h1h1h1V529h1h1V531h1V523h1h1V538h1h1V528h1h1h1h1V532h1V530h1h1V539h1h1V540h1V530h1h1V527h1V533h1V527h1V529h1V531h1V523h1V525h1V529h1V519h1V528h1V525h1V518h1V520h1V523h1V533h1h1V532h1V528h1h1V527h1h1h1V528h1h1h1V524h1h1V530h1V529h1V525h1h1h1h1V531h1V528h1V532h1h1V520h1V524h1h1h1V526h1V531h1V529h1V525h1h1V532h1V530h1V528h1V518h1V523h1h1V529h1V533h1V517h1h1V521h1V532h1h1h1V531h1V530h1V545h1V530h1V531h1V526h1V528h1h1V524h1h1V539h1h1V538h1V526h1V525h1h1V523h1V528h1V529h1h1V531h1V530h1V538h1V519h1V537h1V521h1h1h1V536h1h1V526h1h1h1V529h1V528h1V521h1h1h1h1V530h1h1V535h1V528h1V519h1h1h1V520h1V524h1h1V530h1V524h1V523h1h1V527h1h1h1h1V535h1V533h1V531h1V527h1V521h1V518h1h1V525h1h1V522h1V538h1h1V527h1h1V521h1h1h1V524h1V522h1h1h1h1V527h1V529h1V519h1V532h1h1V527h1V530h1V517h1h1V521h1V527h1h1V530h1V526h1h1V527h1V536h1V524h1h1V533h1V524h1h1h1V526h1h1V529h1V524h1V547h1V522h1h1h1V526h1V519h1V532h1V519h1V527h1V522h1V525h1V523h1V527h1h1V519h1h1V525h1V526h1V521h1V528h1V530h1V528h1h1V527h1V515h1h1V528h1h1V518h1V525h1V530h1V527h1h1V524h1V529h1V530h1V529h1V528h1V516h1V521h1V520h1V530h1h1h1V529h1V522h1V512h1V519h1h1V520h1h1V536h1V520h1V533h1h1V519h1V521h1V527h1V523h1V532h1h1V528h1V515h1V525h1V542h1V532h1V517h1V528h1h1h1h1V530h1h1h1V527h1h1h1V528h1V523h1V521h1V525h1h1h1V523h1V535h1V519h1V526h1h1V527h1V519h1h1V520h1V526h1h1V525h1h1h1h1V527h1V528h1h1h1V534h1V540h1V527h1V528h1V530h1V522h1h1h1V526h1V522h1h1h1V523h1V515h1V532h1V519h1V523h1V525h1V524h1V519h1V521h1V529h1V515h1h1V525h1h1V528h1h1V533h1h1V530h1h1h1V531h1V533h1h1V531h1h1V524h1h1V530h1h1h1V517h1V516h1V523h1h1V526h1V520h1h1V523h1V526h1V525h1V521h1V529h1h1V522h1V523h1V524h1V538h1V520h1h1V530h1V524h1V520h1h1h1h1h1V527h1V526h1h1h1V525h1V518h1h1V534h1V530h1V524h1h1h1h1h1V537h1V526h1h1V517h1V522h1V524h1V525h1h1V527h1h1V520h1V526h1V525h1h1h1V518h1V523h1h1V526h1V521h1V528h1V529h1V521h1V524h1h1V525h1h1V513h1V516h1V517h1h1V526h1V524h1V518h1V512h1V519h1V535h1h1V518h1V519h1V531h1V523h1h1V515h1V522h1h1V523h1h1V522h1V530h1V526h1V522h1V521h1V530h1V521h1V524h1h1h1h1V540h1h1h1V527h1V529h1h1V527h1h1V510h1V540h1V537h1V522h1V523h1V534h1h1V523h1V527h1V523h1h1h1V515h1h1V527h1V521h1h1V522h1h1h1h1V531h1h1V521h1V519h1h1h1V526h1h1V517h1V531h1h1V526h1h1V527h1V519h1V537h1V536h1V520h1V519h1h1V523h1h1V521h1V517h1h1V522h1h1V533h1V532h1h1V524h1V534h1V527h1V525h1V533h1V524h1h1h1h1h1V527h1V530h1V521h1V524h1V521h1V530h1h1h1h1h1V519h1V525h1V518h1h1V530h1V520h1V518h1h1V522h1V520h1h1h1V522h1V526h1h1h1V515h1V512h1V517h1h1V529h1V522h1V531h1V539h1V538h1V520h1V516h1h1h1V517h1h1V520h1V531h1V513h1V536h1h1h1V526h1h1h1V528h1V530h1h1V514h1h1V524h1V518h1V528h1h1V517h1V520h1V524h1V523h1V540h1V522h1V516h1V518h1h1V519h1V524h1V526h1V535h1h1h1V524h1h1V532h1V550h1V530h1h1V529h1V521h1h1h1V522h1h1h1h1V542h1V521h1h1h1V527h1V543h1V554h-1V566h-1h-1V580h-1V570h-1V579h-1V578h-1V579h-1h-1V570h-1h-1V568h-1V567h-1V568h-1V579h-1V574h-1V575h-1V567h-1V575h-1V565h-1h-1V574h-1V573h-1V580h-1V583h-1V566h-1V573h-1V571h-1V585h-1V582h-1h-1V573h-1h-1h-1V565h-1h-1V566h-1V555h-1V571h-1V562h-1V578h-1h-1h-1V576h-1V574h-1V560h-1V583h-1V577h-1V566h-1V571h-1V569h-1V579h-1V581h-1h-1h-1V565h-1V579h-1h-1V555h-1V583h-1V587h-1V570h-1V567h-1V574h-1V575h-1h-1V569h-1h-1h-1V568h-1V572h-1h-1V569h-1V576h-1V577h-1h-1V583h-1V569h-1h-1h-1h-1h-1V573h-1V571h-1h-1V570h-1V579h-1V568h-1V583h-1h-1V575h-1V574h-1h-1V573h-1V577h-1h-1V574h-1V572h-1V573h-1h-1h-1V575h-1V576h-1h-1h-1V575h-1h-1h-1h-1h-1V577h-1V579h-1V584h-1h-1V571h-1V577h-1V575h-1h-1V571h-1h-1V573h-1V580h-1V575h-1h-1h-1V573h-1h-1V572h-1h-1V574h-1V578h-1V579h-1h-1h-1V565h-1V575h-1V573h-1V575h-1h-1h-1V572h-1V571h-1h-1h-1h-1V576h-1V572h-1V580h-1V581h-1h-1V577h-1V572h-1V577h-1V566h-1V568h-1V574h-1h-1V579h-1h-1V584h-1V575h-1V571h-1h-1V569h-1V583h-1V573h-1V575h-1h-1h-1h-1V574h-1h-1h-1V578h-1V568h-1V578h-1V574h-1V573h-1V569h-1V568h-1V571h-1h-1h-1h-1h-1V568h-1h-1V569h-1h-1V571h-1V575h-1V580h-1V581h-1V569h-1h-1V567h-1V575h-1V574h-1V577h-1V566h-1h-1V565h-1V562h-1V575h-1h-1V573h-1V575h-1h-1h-1V573h-1V572h-1V576h-1h-1h-1V573h-1V570h-1V575h-1V577h-1V579h-1V571h-1V569h-1V570h-1V576h-1h-1h-1h-1V567h-1h-1V572h-1V570h-1V565h-1V575h-1h-1V574h-1V576h-1V579h-1V582h-1V575h-1V577h-1h-1V571h-1V570h-1V574h-1h-1V568h-1h-1V567h-1h-1h-1V566h-1V567h-1V561h-1V581h-1V582h-1V565h-1V577h-1V573h-1h-1V570h-1V569h-1h-1V576h-1h-1V572h-1V575h-1V563h-1V568h-1V576h-1V578h-1V574h-1h-1V570h-1V569h-1h-1V573h-1V568h-1V566h-1V565h-1V572h-1V576h-1V568h-1h-1V578h-1V573h-1V570h-1V574h-1V577h-1V572h-1h-1V566h-1V572h-1V573h-1V574h-1h-1V566h-1V574h-1V571h-1V575h-1V567h-1V583h-1V582h-1V577h-1V571h-1V577h-1V570h-1V574h-1V573h-1V574h-1h-1h-1V573h-1V579h-1h-1h-1V578h-1V567h-1h-1h-1V568h-1h-1h-1h-1V581h-1h-1V571h-1h-1V570h-1h-1V567h-1V574h-1h-1V572h-1V573h-1h-1h-1V564h-1h-1V584h-1V577h-1h-1V562h-1h-1V580h-1V577h-1V576h-1V568h-1V578h-1V564h-1V578h-1h-1V581h-1h-1h-1V578h-1V580h-1V576h-1h-1V575h-1V567h-1V574h-1V564h-1V578h-1h-1h-1V583h-1V556h-1V566h-1V577h-1V562h-1V581h-1V570h-1V582h-1V578h-1V575h-1V576h-1V583h-1V567h-1h-1V575h-1V568h-1V570h-1h-1h-1h-1V577h-1V575h-1h-1V573h-1V578h-1h-1h-1V575h-1h-1V583h-1V582h-1V580h-1V566h-1h-1V578h-1V586h-1h-1h-1V565h-1V570h-1V578h-1h-1V572h-1V570h-1V579h-1V580h-1V581h-1V570h-1h-1V574h-1h-1V567h-1V590h-1V576h-1V570h-1h-1V581h-1h-1V578h-1V561h-1V572h-1h-1V571h-1V580h-1h-1h-1V572h-1h-1V584h-1V574h-1V582h-1V571h-1h-1V570h-1h-1V571h-1h-1V575h-1V579h-1V585h-1V569h-1V571h-1V576h-1h-1h-1V564h-1V573h-1h-1h-1V575h-1h-1h-1h-1V574h-1h-1V583h-1h-1V572h-1V576h-1V577h-1h-1V572h-1h-1V573h-1h-1h-1V572h-1h-1V576h-1V570h-1h-1V577h-1h-1V573h-1V570h-1V574h-1h-1h-1V569h-1V573h-1V582h-1V580h-1V570h-1h-1V581h-1V577h-1h-1V581h-1V573h-1h-1h-1V581h-1h-1V577h-1V571h-1h-1V575h-1h-1V579h-1V572h-1V581h-1h-1V575h-1V571h-1V576h-1V583h-1h-1h-1V580h-1V582h-1h-1h-1V581h-1V572h-1h-1V584h-1h-1h-1V577h-1V576h-1V577h-1h-1h-1V576h-1V570h-1V568h-1V567h-1V566h-1V574h-1h-1V569h-1V573h-1V572h-1V582h-1h-1V568h-1V571h-1V573h-1V575h-1V581h-1h-1h-1h-1V579h-1h-1V570h-1h-1V578h-1h-1h-1V580h-1V573h-1V571h-1V580h-1V567h-1V584h-1V577h-1V575h-1h-1h-1V573h-1V576h-1V581h-1V585h-1V578h-1V577h-1V582h-1h-1V587h-1V578h-1h-1V579h-1h-1V584h-1h-1h-1V577h-1V576h-1V571h-1V573h-1V576h-1V577h-1V572h-1V571h-1V575h-1V585h-1h-1V576h-1V575h-1V585h-1h-1V579h-1V582h-1V574h-1V577h-1h-1h-1h-1V575h-1h-1h-1h-1V574h-1h-1V576h-1V568h-1V576h-1V570h-1V578h-1V566h-1V582h-1V579h-1V577h-1V579h-1h-1h-1V580h-1h-1V581h-1h-1V575h-1h-1V572h-1V576h-1h-1h-1h-1h-1V578h-1h-1V572h-1h-1V566h-1V579h-1V576h-1V577h-1V572h-1h-1h-1V577h-1V580h-1h-1V574h-1V581h-1V582h-1V587h-1h-1V580h-1V577h-1V587h-1h-1V579h-1V577h-1h-1h-1h-1h-1h-1V578h-1V582h-1V580h-1V572h-1h-1V571h-1V572h-1V573h-1V581h-1V583h-1h-1V577h-1V576h-1V581h-1h-1h-1h-1V577h-1h-1V563h-1z"/><path fill="none" stroke="#1f77b4" stroke-width="3.2" stroke-linecap="round" d="M233.5 490.5h0m0 4h0m0 10h0m0 2h0m1-20h0m0 5h0m0 3h0m0 3h0m0 2h0m0 1h0m0 1h0m0 1h0m0 2h0m0 1h0m0 4h0m0 8h0m0 3h0m0 1h0m0 1h0m0 1h0m0 1h0m0 4h0m0 2h0m0 1h0m0 2h0m0 6h0m0 1h0m0 5h0m1-59h0m0 3h0m0 10h0m0 1h0m0 10h0m0 10h0m0 1h0m0 2h0m0 4h0m0 1h0m0 2h0m0 1h0m0 1h0m0 5h0m0 1h0m0 3h0m0 1h0m0 3h0m0 1h0m0 2h0m0 2h0m0 1h0m0 1h0m0 6h0m0 1h0m0 1h0m0 1h0m0 1h0m0 1h0m0 1h0m0 1h0m0 1h0m0 1h0m0 1h0m0 1h0m0 1h0m0 1h0m0 2h0m0 2h0m0 1h0m0 1h0m0 4h0m0 1h0m0 3h0m0 3h0m1-32h0m0 1h0m0 1h0m0 1h0m0 3h0m0 1h0m0 3h0m0 1h0m0 2h0m0 1h0m0 1h0m0 1h0m0 1h0m0 1h0m0 2h0m0 1h0m0 3h0m0 2h0m0 4h0m0 11h0m1-45h0m0 3h0m0 1h0m0 2h0m0 2h0m0 3h0m0 1h0m0 2h0m0 1h0m0 2h0m0 1h0m0 1h0m0 1h0m0 1h0m0 1h0m0 1h0m0 1h0m0 3h0m0 1h0m0 2h0m0 1h0m0 3h0m1-46h0m0 9h0m0 6h0m0 3h0m0 2h0m0 1h0m0 1h0m0 1h0m0 1h0m0 1h0m0 2h0m0 1h0m0 1h0m0 2h0m0 3h0m0 1h0m0 3h0m0 10h0m1-41h0m0 1h0m0 39h0m0 1h0m0 6h0m1-52h0m0 5h0m0 36h0m1-58h0m0 2h0m0 6h0m0 1h0m0 46h0m1-75h0m0 18h0m0 3h0m0 2h0m0 3h0m0 39h0m0 4h0m0 1h0m0 2h0m1-57h0m0 15h0m0 35h0m0 7h0m1-54h0m0 13h0m0 1h0m0 33h0m0 4h0m0 5h0m0 5h0m1-79h0m0 16h0m0 4h0m0 3h0m0 1h0m1-16h0m0 4h0m0 13h0m0 6h0m0 42h0m0 2h0m0 2h0m1-57h0m0 6h0m0 2h0m0 1h0m0 4h0m0 35h0m0 4h0m0 8h0m0 5h0m0 2h0m1-89h0m0 11h0m0 2h0m0 11h0m0 7h0m0 4h0m0 39h0m0 2h0m0 2h0m0 7h0m0 15h0m1-87h0m0 14h0m0 9h0m0 50h0m0 5h0m1-68h0m0 1h0m0 49h0m0 10h0m1-66h0m0 6h0m0 51h0m0 8h0m0 5h0m1-78h0m0 4h0m0 17h0m0 43h0m0 10h0m0 1h0m1-69h0m0 6h0m0 8h0m0 45h0m0 18h0m1-89h0m0 80h0m1-69h0m0 3h0m0 13h0m0 43h0m0 5h0m0 5h0m1-52h0m0 43h0m0 6h0m0 11h0m1-76h0m0 9h0m0 5h0m0 41h0m0 27h0m1-102h0m0 2h0m0 11h0m0 14h0m0 47h0m0 7h0m0 5h0m0 27h0m1-91h0m0 11h0m0 1h0m0 60h0m0 8h0m1-84h0m0 1h0m0 5h0m0 3h0m0 54h0m0 5h0m0 3h0m0 1h0m1-68h0m0 2h0m0 5h0m0 4h0m0 1h0m0 4h0m0 1h0m0 42h0m0 26h0m1-106h0m0 14h0m0 14h0m0 2h0m0 1h0m0 6h0m1-18h0m0 1h0m0 11h0m0 62h0m0 2h0m0 1h0m0 1h0m1-93h0m0 17h0m0 3h0m0 1h0m0 1h0m0 6h0m0 1h0m0 7h0m0 1h0m0 39h0m0 17h0m1-98h0m0 20h0m0 6h0m0 1h0m0 4h0m0 2h0m0 3h0m0 47h0m0 1h0m0 24h0m1-93h0m0 7h0m0 3h0m0 4h0m0 1h0m0 1h0m0 4h0m0 6h0m0 31h0m0 1h0m0 6h0m0 1h0m1-74h0m0 22h0m0 1h0m0 2h0m0 1h0m0 1h0m0 2h0m0 37h0m0 1h0m0 5h0m0 5h0m1-10h0m0 6h0m0 8h0m0 4h0m1-93h0m0 30h0m0 2h0m0 12h0m0 36h0m0 27h0m1-95h0m0 12h0m0 5h0m0 2h0m0 6h0m0 2h0m0 45h0m0 4h0m0 6h0m0 1h0m1-101h0m0 4h0m0 25h0m0 15h0m0 5h0m0 40h0m0 1h0m1-72h0m0 4h0m0 7h0m0 4h0m0 16h0m0 1h0m0 7h0m0 1h0m0 4h0m0 1h0m0 2h0m0 4h0m0 3h0m0 7h0m0 2h0m0 4h0m0 2h0m46-44h0m0 9h0m0 1h0m0 1h0m0 6h0m0 8h0m0 8h0m1-52h0m0 12h0m0 4h0m0 6h0m0 34h0m0 10h0m0 1h0m1-78h0m0 13h0m0 13h0m0 2h0m0 40h0m0 6h0m1-67h0m0 16h0m0 2h0m0 8h0m0 35h0m0 4h0m1-49h0m0 44h0m0 7h0m0 2h0m0 5h0m1-60h0m0 47h0m0 4h0m0 3h0m0 4h0m1-9h0m0 1h0m0 4h0m1-52h0m0 10h0m0 37h0m0 12h0m1-85h0m0 31h0m0 6h0m0 35h0m1-48h0m0 6h0m0 1h0m0 6h0m0 44h0m0 14h0m1-67h0m0 2h0m0 1h0m0 4h0m0 37h0m0 6h0m0 4h0m0 4h0m1-67h0m0 4h0m0 5h0m0 44h0m0 1h0m0 4h0m0 4h0m1-60h0m0 7h0m0 2h0m0 4h0m0 1h0m0 40h0m0 6h0m1-65h0m0 4h0m0 10h0m0 5h0m0 45h0m0 9h0m1-77h0m0 10h0m0 58h0m0 24h0m1-33h0m0 4h0m0 2h0m0 12h0m1-66h0m0 2h0m0 45h0m0 6h0m0 2h0m0 2h0m0 2h0m0 6h0m0 4h0m1-81h0m0 14h0m0 5h0m0 5h0m0 36h0m0 7h0m0 1h0m0 2h0m1-56h0m0 4h0m0 1h0m0 1h0m0 10h0m0 10h0m0 8h0m0 2h0m0 2h0m0 7h0m0 6h0m0 15h0m22-75h0m0 22h0m0 2h0m0 8h0m0 1h0m0 1h0m0 1h0m0 6h0m0 5h0m0 1h0m0 8h0m0 3h0m0 11h0m1-60h0m0 7h0m0 1h0m0 1h0m0 3h0m0 1h0m0 4h0m0 1h0m0 1h0m0 2h0m0 5h0m0 25h0m0 1h0m1-48h0m0 1h0m0 3h0m0 5h0m0 1h0m0 2h0m0 3h0m0 1h0m0 5h0m0 1h0m0 30h0m0 6h0m1-68h0m0 16h0m0 5h0m0 4h0m0 6h0m0 1h0m1-32h0m0 4h0m0 10h0m0 48h0m1-78h0m0 33h0m0 1h0m0 5h0m0 34h0m0 5h0m0 4h0m1-76h0m0 9h0m0 10h0m0 14h0m0 1h0m0 32h0m0 1h0m0 5h0m0 4h0m1-54h0m0 3h0m0 1h0m0 1h0m0 1h0m0 5h0m0 33h0m0 8h0m1-70h0m0 3h0m0 20h0m0 5h0m0 1h0m0 35h0m0 6h0m1-57h0m0 5h0m0 1h0m0 48h0m0 1h0m1-8h0m0 16h0m1-80h0m0 7h0m0 56h0m0 5h0m1-55h0m0 4h0m0 44h0m0 1h0m1 5h0m0 2h0m0 3h0m1-81h0m0 28h0m0 4h0m0 1h0m0 37h0m0 11h0m1-55h0m0 2h0m0 43h0m0 1h0m0 4h0m0 3h0m0 1h0m1-67h0m0 13h0m0 45h0m0 5h0m0 3h0m1-61h0m0 3h0m0 11h0m0 46h0m1-64h0m0 6h0m0 1h0m0 4h0m0 6h0m0 1h0m0 50h0m0 14h0m1-78h0m0 9h0m0 6h0m1-7h0m0 50h0m0 1h0m1-55h0m0 10h0m0 1h0m0 43h0m0 6h0m0 6h0m1-64h0m0 1h0m0 3h0m0 6h0m0 43h0m0 7h0m1-76h0m0 12h0m0 10h0m0 1h0m0 1h0m0 7h0m0 1h0m0 37h0m1-73h0m0 22h0m0 14h0m1-15h0m0 51h0m1-47h0m0 1h0m0 49h0m1-52h0m0 1h0m0 7h0m0 42h0m0 5h0m0 2h0m0 3h0m1-61h0m0 8h0m0 57h0m1-64h0m0 3h0m0 46h0m1-57h0m0 3h0m0 11h0m0 47h0m0 5h0m0 2h0m1-76h0m0 12h0m0 59h0m0 15h0m1-69h0m0 6h0m0 2h0m0 5h0m0 39h0m1-54h0m0 4h0m0 1h0m0 4h0m0 2h0m0 4h0m0 32h0m0 8h0m0 10h0m1-75h0m0 13h0m0 2h0m0 4h0m0 7h0m0 32h0m1-55h0m0 14h0m0 2h0m0 5h0m0 33h0m0 1h0m0 6h0m1-59h0m0 2h0m0 2h0m0 52h0m1-43h0m0 38h0m0 12h0m0 7h0m1-77h0m0 6h0m0 51h0m0 12h0m1-57h0m0 11h0m0 39h0m0 1h0m0 7h0m1-65h0m0 18h0m0 34h0m0 1h0m0 5h0m0 4h0m0 1h0m0 1h0m0 6h0m1-59h0m0 2h0m0 4h0m0 1h0m0 35h0m1-56h0m0 6h0m0 5h0m0 3h0m0 1h0m0 5h0m0 1h0m0 39h0m0 10h0m1-80h0m0 13h0m0 1h0m0 8h0m0 3h0m0 1h0m0 40h0m0 4h0m0 11h0m1-56h0m0 34h0m0 5h0m0 7h0m0 2h0m1-68h0m0 3h0m0 17h0m0 35h0m0 6h0m0 4h0m1-55h0m0 9h0m0 41h0m0 5h0m0 2h0m1-53h0m0 47h0m0 5h0m0 1h0m0 4h0m0 27h0m1-83h0m0 1h0m0 2h0m0 1h0m0 9h0m0 36h0m0 16h0m1-62h0m0 5h0m0 5h0m0 46h0m1-62h0m0 5h0m0 1h0m0 5h0m0 4h0m0 1h0m0 37h0m0 7h0m1-61h0m0 5h0m0 1h0m0 7h0m1-18h0m0 18h0m0 40h0m1-51h0m0 48h0m0 4h0m0 4h0m0 21h0m1-81h0m0 8h0m0 44h0m1-43h0m1-8h0m0 6h0m0 47h0m0 1h0m0 6h0m0 8h0m1-74h0m0 15h0m0 49h0m0 2h0m1-52h0m0 5h0m1-17h0m0 2h0m0 16h0m0 1h0m0 44h0m1-57h0m0 7h0m0 6h0m1-1h0m0 1h0m0 42h0m0 7h0m1-59h0m0 5h0m0 48h0m1-57h0m0 4h0m0 4h0m0 1h0m0 55h0m1-74h0m0 14h0m0 6h0m0 44h0m0 1h0m1-50h0m0 1h0m0 48h0m0 1h0m1-61h0m0 11h0m0 6h0m0 37h0m0 7h0m0 2h0m0 9h0m1-85h0m0 23h0m0 5h0m0 35h0m0 5h0m0 7h0m0 4h0m0 6h0m1-76h0m0 15h0m0 2h0m0 2h0m0 1h0m0 34h0m0 4h0m0 6h0m0 1h0m0 8h0m1-58h0m0 4h0m0 1h0m0 6h0m0 1h0m0 30h0m0 1h0m0 4h0m0 2h0m0 10h0m0 8h0m1-62h0m0 6h0m0 1h0m0 28h0m0 7h0m0 2h0m1-74h0m0 28h0m0 38h0m0 4h0m0 4h0m0 4h0m0 2h0m1-57h0m0 6h0m0 37h0m0 5h0m1-46h0m0 2h0m0 4h0m0 1h0m0 6h0m0 1h0m0 33h0m0 7h0m1-52h0m0 1h0m0 4h0m0 6h0m0 1h0m0 32h0m0 1h0m1-54h0m0 1h0m0 4h0m0 9h0m0 2h0m0 38h0m0 5h0m0 5h0m1-73h0m0 15h0m0 49h0m0 5h0m1-6h0m0 1h0m0 11h0m1-64h0m0 1h0m0 4h0m0 54h0m0 10h0m1-76h0m0 4h0m0 5h0m0 3h0m0 4h0m0 44h0m1-51h0m0 2h0m0 5h0m0 46h0m1-55h0m0 5h0m0 1h0m0 1h0m0 1h0m0 1h0m0 1h0m0 5h0m0 40h0m0 4h0m0 4h0m1-49h0m0 1h0m1-14h0m0 10h0m0 41h0m0 8h0m1-47h0m0 1h0m0 43h0m1-60h0m0 8h0m0 3h0m0 6h0m0 43h0m1-60h0m0 1h0m0 10h0m0 1h0m0 5h0m0 42h0m0 7h0m0 11h0m1-67h0m0 1h0m0 5h0m0 40h0m0 7h0m1-59h0m0 13h0m0 44h0m0 3h0m1-62h0m0 2h0m0 5h0m0 1h0m0 2h0m0 4h0m1-33h0m0 74h0m0 6h0m0 3h0m1-11h0m0 5h0m0 3h0m1-60h0m0 2h0m0 6h0m0 41h0m0 4h0m0 7h0m0 9h0m1-73h0m0 8h0m0 3h0m0 55h0m0 1h0m0 1h0m1-69h0m0 10h0m0 3h0m0 3h0m0 4h0m0 33h0m0 7h0m1-78h0m0 30h0m0 1h0m0 3h0m0 4h0m0 35h0m0 4h0m0 12h0m1-74h0m0 8h0m0 9h0m0 1h0m0 5h0m0 36h0m0 8h0m1-54h0m0 43h0m1-69h0m0 21h0m0 49h0m0 10h0m0 1h0m0 3h0m1-58h0m0 49h0m0 10h0m1-55h0m1 0h0m0 46h0m1-54h0m0 6h0m0 2h0m0 1h0m0 1h0m0 51h0m1-59h0m0 8h0m0 1h0m0 4h0m0 1h0m0 58h0m1-87h0m0 11h0m0 5h0m0 8h0m0 5h0m0 40h0m0 10h0m0 10h0m1-66h0m0 7h0m0 47h0m1-79h0m0 26h0m0 6h0m0 48h0m1-59h0m0 49h0m0 5h0m0 3h0m1-66h0m0 57h0m0 10h0m1-61h0m0 56h0m1-54h0m0 4h0m0 45h0m0 5h0m1-52h0m1-8h0m0 2h0m0 60h0m1-67h0m0 8h0m0 6h0m0 47h0m1-50h0m0 47h0m0 1h0m0 5h0m0 4h0m1-61h0m1-6h0m0 1h0m0 2h0m0 51h0m0 1h0m1-46h0m0 46h0m0 8h0m0 16h0m1-80h0m0 58h0m0 4h0m0 9h0m1-69h0m0 5h0m1-2h0m0 52h0m0 1h0m0 9h0m1-58h0m0 6h0m0 1h0m0 34h0m0 10h0m0 5h0m1-65h0m0 8h0m0 7h0m0 35h0m0 4h0m0 2h0m0 7h0m1-53h0m0 5h0m0 43h0m0 2h0m1-57h0m0 50h0m0 9h0m0 7h0m0 2h0m1-77h0m0 9h0m0 7h0m0 4h0m0 1h0m0 39h0m0 7h0m0 2h0m1-68h0m0 10h0m0 51h0m1 11h0m1-64h0m0 6h0m0 52h0m0 5h0m1-67h0m0 60h0m0 1h0m0 7h0m1-72h0m0 9h0m0 6h0m0 1h0m0 42h0m0 7h0m0 12h0m0 2h0m1-74h0m0 60h0m0 1h0m1-9h0m0 7h0m0 3h0m0 11h0m1-75h0m0 8h0m0 4h0m0 1h0m0 50h0m1-54h0m0 5h0m0 1h0m1-1h0m0 1h0m0 51h0m0 23h0m1-87h0m0 7h0m1-6h0m0 10h0m0 47h0m0 4h0m0 2h0m1-56h0m0 48h0m0 17h0m1-81h0m0 5h0m0 6h0m0 4h0m0 46h0m0 1h0m0 11h0m0 1h0m0 7h0m1-64h0m0 42h0m0 11h0m0 20h0m1-80h0m0 11h0m0 37h0m0 28h0m1-63h0m0 35h0m0 6h0m0 2h0m0 4h0m0 2h0m1-54h0m0 45h0m0 4h0m0 1h0m0 5h0m0 5h0m1-68h0m0 2h0m0 2h0m0 1h0m0 7h0m0 40h0m0 6h0m1-53h0m0 2h0m0 6h0m0 36h0m0 9h0m0 6h0m1-15h0m0 5h0m1-50h0m0 45h0m0 1h0m0 13h0m0 4h0m0 2h0m1-16h0m0 2h0m0 11h0m1-60h0m0 6h0m0 42h0m0 13h0m1-56h0m0 1h0m0 35h0m0 18h0m1-87h0m0 69h0m0 1h0m0 18h0m1-61h0m0 4h0m0 1h0m0 38h0m0 1h0m1-51h0m0 1h0m0 2h0m0 4h0m0 3h0m0 5h0m0 38h0m0 5h0m1-44h0m0 45h0m0 12h0m0 1h0m1-73h0m0 61h0m0 16h0m1-74h0m0 10h0m1-2h0m0 49h0m1-59h0m0 5h0m0 53h0m1-67h0m0 20h0m0 1h0m0 48h0m0 5h0m1-60h0m0 10h0m0 51h0m0 1h0m1-52h0m0 48h0m0 10h0m1-74h0m0 3h0m0 1h0m0 8h0m0 44h0m0 4h0m0 4h0m1-9h0m0 1h0m1-52h0m0 12h0m0 46h0m0 2h0m1-53h0m0 4h0m0 50h0m0 8h0m1-65h0m0 2h0m0 1h0m0 55h0m0 11h0m0 6h0m1-73h0m0 5h0m1-25h0m0 73h0m0 1h0m1-67h0m0 4h0m0 2h0m0 3h0m0 1h0m0 2h0m0 5h0m0 5h0m0 1h0m0 1h0m0 2h0m0 1h0m0 5h0m1-22h0m0 1h0m0 5h0m0 6h0m0 3h0m0 2h0m0 5h0m0 37h0m0 1h0m0 5h0m1-67h0m0 10h0m0 2h0m0 1h0m0 1h0m0 2h0m0 2h0m0 1h0m0 4h0m1-25h0m0 6h0m0 6h0m0 45h0m1-61h0m0 2h0m0 13h0m0 1h0m1-4h0m0 44h0m1 3h0m0 1h0m1-69h0m0 70h0m0 1h0m0 2h0m0 2h0m0 5h0m1-63h0m0 1h0m0 1h0m0 3h0m0 44h0m0 5h0m0 18h0m1-71h0m0 2h0m0 2h0m0 1h0m0 1h0m0 1h0m0 2h0m0 1h0m0 4h0m0 33h0m0 21h0m1-74h0m0 2h0m0 4h0m0 14h0m0 1h0m0 35h0m0 1h0m0 4h0m1-53h0m0 12h0m0 32h0m0 1h0m1-57h0m0 1h0m0 5h0m0 7h0m0 5h0m0 5h0m0 34h0m0 4h0m0 6h0m0 3h0m0 1h0m1-60h0m0 57h0m1-58h0m0 46h0m0 1h0m0 4h0m0 12h0m1-60h0m0 50h0m0 4h0m1-59h0m0 6h0m0 1h0m0 44h0m0 7h0m1-52h0m0 44h0m1-51h0m0 2h0m0 1h0m0 49h0m0 4h0m0 3h0m1-61h0m0 11h0m0 48h0m0 1h0m0 18h0m1-67h0m0 7h0m0 1h0m0 34h0m0 9h0m1-61h0m0 4h0m0 5h0m0 1h0m0 3h0m0 5h0m1-20h0m0 3h0m0 1h0m0 54h0m0 1h0m0 9h0m1-62h0m0 3h0m0 1h0m0 4h0m0 4h0m0 34h0m0 5h0m1-47h0m0 1h0m0 8h0m0 32h0m0 1h0m0 5h0m0 1h0m0 2h0m0 3h0m1-61h0m0 58h0m0 8h0m1-80h0m0 17h0m0 7h0m0 39h0m0 5h0m0 1h0m0 1h0m0 2h0m1-48h0m0 1h0m0 5h0m0 36h0m0 8h0m0 6h0m1-58h0m0 3h0m0 4h0m0 34h0m0 9h0m0 4h0m1-68h0m0 16h0m0 1h0m0 38h0m0 4h0m0 9h0m0 5h0m1-62h0m0 48h0m0 1h0m1-46h0m0 1h0m0 44h0m0 1h0m0 5h0m1-50h0m0 40h0m0 1h0m0 9h0m1-56h0m0 5h0m0 1h0m0 40h0m0 13h0m0 5h0m1-65h0m0 5h0m0 1h0m0 61h0m1-74h0m0 5h0m0 53h0m0 14h0m1-87h0m0 4h0m0 70h0m0 3h0m0 9h0m1-70h0m0 4h0m0 10h0m0 40h0m0 5h0m1-52h0m0 1h0m0 5h0m0 1h0m0 45h0m0 1h0m0 19h0m1-80h0m0 14h0m0 1h0m0 4h0m0 1h0m0 35h0m0 6h0m1-68h0m0 11h0m0 15h0m0 38h0m0 8h0m0 2h0m0 4h0m0 10h0m1-74h0m0 5h0m0 8h0m0 37h0m0 9h0m0 10h0m1-68h0m1-14h0m0 9h0m0 55h0m0 4h0m1-6h0m0 17h0m1-16h0m0 6h0m0 18h0m1-77h0m1-1h0m0 5h0m0 2h0m0 51h0m0 1h0m0 9h0m1-61h0m0 4h0m0 1h0m0 46h0m0 6h0m1-84h0m0 74h0m1-49h0m0 48h0m0 1h0m0 4h0m1-54h0m0 4h0m0 46h0m0 5h0m1-3h0m0 5h0m0 3h0m0 1h0m0 7h0m1-64h0m1 48h0m1-59h0m0 11h0m0 4h0m0 4h0m0 1h0m1-26h0m0 10h0m0 2h0m0 5h0m0 2h0m0 6h0m0 1h0m0 40h0m1-55h0m0 2h0m0 3h0m0 50h0m1-53h0m0 10h0m0 40h0m0 1h0m1-43h0m0 52h0m1-56h0m0 1h0m0 52h0m1-59h0m0 48h0m0 1h0m0 2h0m0 1h0m0 1h0m0 6h0m1-62h0m0 8h0m0 38h0m0 1h0m0 4h0m0 1h0m1-6h0m0 6h0m0 1h0m0 5h0m0 8h0m1-70h0m0 11h0m0 52h0m1-49h0m0 3h0m0 1h0m0 2h0m0 37h0m0 1h0m1-50h0m0 7h0m0 1h0m0 1h0m0 3h0m0 4h0m0 31h0m0 1h0m1-38h0m0 2h0m0 5h0m0 42h0m0 3h0m0 1h0m1-57h0m0 3h0m0 1h0m0 7h0m0 30h0m0 1h0m0 4h0m0 4h0m0 2h0m0 6h0m0 5h0m1-64h0m0 49h0m0 10h0m1-63h0m0 4h0m0 45h0m0 18h0m1-69h0m0 51h0m0 4h0m1-52h0m0 56h0m0 8h0m1-63h0m0 46h0m0 5h0m0 12h0m2-66h0m0 1h0m0 48h0m0 7h0m1-63h0m0 1h0m0 56h0m0 5h0m1-50h0m1-12h0m0 7h0m0 53h0m0 5h0m0 3h0m1-64h0m0 1h0m0 9h0m0 1h0m0 43h0m0 6h0m0 2h0m0 2h0m0 2h0m1-61h0m0 49h0m0 4h0m1-54h0m0 2h0m0 3h0m0 5h0m0 40h0m1-55h0m0 4h0m0 5h0m0 5h0m0 41h0m0 5h0m0 8h0m1-54h0m0 49h0m1-62h0m0 1h0m0 10h0m0 42h0m0 4h0m0 1h0m1-58h0m0 3h0m0 2h0m0 2h0m0 5h0m0 40h0m0 7h0m0 10h0m1-71h0m0 62h0m0 9h0m1-26h0m0 5h0m0 1h0m0 2h0m0 3h0m1-65h0m0 13h0m0 6h0m0 40h0m0 3h0m0 7h0m0 6h0m0 1h0m1-71h0m0 4h0m0 2h0m0 3h0m0 9h0m0 35h0m0 3h0m0 4h0m0 4h0m0 2h0m1-60h0m1 7h0m0 4h0m0 1h0m0 40h0m0 11h0m1-55h0m0 48h0m0 4h0m1-63h0m0 4h0m0 10h0m0 1h0m0 57h0m1-84h0m0 13h0m0 12h0m0 7h0m0 1h0m0 34h0m0 6h0m0 5h0m0 3h0m1-61h0m0 4h0m0 2h0m0 1h0m0 1h0m0 4h0m0 1h0m0 37h0m0 14h0m0 3h0m1-66h0m0 43h0m0 7h0m0 5h0m0 2h0m0 4h0m1-58h0m0 1h0m0 4h0m0 34h0m0 1h0m0 4h0m0 7h0m1-79h0m0 25h0m0 2h0m0 6h0m1-9h0m0 1h0m0 50h0m1-4h0m0 11h0m1-78h0m0 2h0m0 20h0m0 1h0m0 43h0m0 5h0m0 2h0m0 4h0m1-52h0m0 50h0m1-61h0m0 58h0m0 22h0m1-79h0m0 5h0m0 5h0m0 3h0m0 3h0m0 1h0m0 1h0m0 2h0m0 2h0m0 2h0m0 34h0m0 3h0m1-54h0m0 5h0m0 1h0m0 6h0m0 1h0m0 1h0m0 1h0m0 1h0m0 1h0m0 5h0m0 22h0m0 1h0m1-43h0m0 1h0m0 3h0m0 8h0m0 1h0m0 1h0m0 1h0m0 4h0m0 1h0m0 24h0m0 1h0m0 4h0m0 1h0m0 1h0m0 5h0m1-62h0m0 1h0m0 52h0m1-60h0m0 50h0m0 1h0m0 4h0m0 1h0m0 13h0m1-70h0m0 51h0m0 6h0m0 6h0m0 3h0m0 1h0m1-70h0m0 15h0m0 7h0m0 32h0m0 1h0m0 6h0m0 1h0m0 3h0m0 3h0m0 3h0m1-80h0m0 17h0m0 3h0m0 3h0m0 3h0m0 4h0m0 55h0m1-72h0m0 7h0m0 57h0m1-71h0m0 14h0m0 5h0m0 1h0m0 39h0m0 6h0m0 5h0m1-11h0m0 16h0m1-58h0m0 52h0m1-50h0m0 1h0m0 38h0m0 1h0m0 7h0m0 7h0m1-58h0m0 4h0m0 54h0m1-5h0m0 7h0m0 7h0m1-92h0m0 21h0m0 3h0m0 5h0m0 49h0m0 8h0m1-59h0m0 1h0m1-5h0m0 5h0m1 0h0m0 53h0m1-51h0m0 45h0m0 10h0m1-62h0m0 1h0m0 2h0m0 6h0m0 44h0m0 14h0m1-77h0m0 12h0m0 61h0m0 6h0m1-66h0m0 52h0m1-75h0m0 13h0m0 14h0m0 54h0m1-66h0m0 5h0m0 57h0m1-63h0m0 4h0m0 8h0m0 1h0m0 43h0m1-54h0m0 4h0m0 3h0m0 4h0m0 42h0m0 1h0m0 5h0m1-53h0m0 6h0m0 39h0m0 1h0m0 7h0m1-55h0m0 1h0m0 1h0m0 45h0m0 1h0m1-51h0m0 3h0m0 7h0m0 39h0m0 8h0m1-50h0m0 1h0m0 41h0m0 1h0m0 4h0m0 4h0m1-46h0m0 37h0m0 11h0m0 3h0m0 3h0m1-69h0m0 60h0m0 2h0m1-70h0m0 20h0m1-11h0m0 13h0m0 47h0m0 7h0m1-59h0m0 52h0m0 7h0m1-63h0m0 5h0m0 5h0m0 49h0m1-66h0m0 5h0m0 2h0m0 3h0m0 7h0m0 41h0m0 11h0m1-64h0m0 5h0m0 6h0m0 38h0m0 2h0m0 2h0m0 9h0m0 8h0m1-67h0m0 3h0m0 4h0m0 39h0m0 3h0m0 3h0m0 1h0m0 3h0m0 1h0m1-73h0m0 11h0m0 46h0m0 1h0m0 4h0m0 4h0m1-60h0m0 15h0m0 4h0m0 26h0m0 6h0m0 1h0m0 1h0m0 1h0m0 1h0m0 1h0m0 7h0m0 3h0m0 6h0m1-63h0m0 4h0m0 7h0m0 25h0m0 1h0m0 4h0m0 2h0m0 1h0m0 3h0m0 5h0m0 3h0m0 3h0m0 2h0m0 3h0m0 1h0m1-72h0m0 7h0m0 11h0m0 27h0m0 4h0m0 3h0m0 1h0m0 6h0m0 5h0m1-52h0m0 1h0m0 58h0m1-60h0m0 7h0m0 49h0m0 6h0m1-73h0m0 5h0m0 5h0m0 7h0m0 35h0m0 1h0m0 11h0m0 2h0m1-9h0m0 6h0m0 10h0m1-71h0m0 5h0m0 1h0m0 45h0m0 7h0m1-66h0m0 61h0m0 1h0m0 5h0m0 14h0m1-85h0m0 18h0m0 47h0m0 20h0m0 2h0m1-68h0m0 2h0m0 2h0m0 1h0m0 10h0m0 1h0m0 38h0m0 1h0m0 7h0m1-63h0m0 5h0m0 1h0m0 4h0m0 6h0m0 1h0m0 40h0m0 4h0m0 4h0m1-62h0m0 4h0m0 9h0m0 40h0m1-54h0m0 7h0m0 4h0m0 46h0m0 10h0m1-70h0m0 9h0m0 5h0m1-12h0m0 2h0m0 2h0m0 2h0m0 6h0m0 1h0m0 48h0m1-74h0m0 19h0m0 51h0m0 18h0m1-17h0m1-60h0m0 9h0m0 37h0m0 4h0m0 8h0m1-72h0m0 18h0m0 2h0m0 45h0m0 9h0m0 4h0m1-59h0m0 4h0m0 4h0m0 33h0m0 8h0m0 3h0m0 1h0m0 11h0m1-69h0m0 1h0m0 3h0m0 5h0m0 40h0m0 5h0m0 4h0m0 7h0m0 4h0m1-73h0m0 3h0m0 51h0m1-49h0m0 6h0m0 1h0m0 3h0m0 5h0m0 1h0m0 1h0m0 1h0m0 5h0m1-27h0m0 9h0m0 3h0m0 5h0m0 3h0m0 1h0m0 1h0m0 4h0m0 25h0m0 2h0m0 6h0m0 3h0m1-60h0m0 6h0m0 2h0m0 6h0m0 4h0m0 2h0m0 4h0m0 1h0m0 20h0m0 4h0m0 7h0m0 7h0m0 12h0m0 1h0m1-62h0m0 38h0m0 5h0m0 1h0m0 8h0m1-67h0m0 4h0m0 8h0m0 34h0m0 13h0m0 1h0m0 1h0m1-58h0m0 1h0m0 7h0m0 57h0m1-63h0m0 2h0m0 4h0m0 1h0m0 35h0m0 1h0m0 8h0m0 1h0m0 2h0m0 2h0m0 7h0m1-70h0m0 49h0m0 6h0m0 3h0m0 2h0m0 5h0m0 2h0m1-68h0m0 50h0m0 1h0m0 4h0m0 11h0m0 6h0m1-65h0m0 1h0m0 8h0m0 1h0m0 33h0m0 7h0m0 2h0m0 1h0m1-58h0m0 5h0m0 1h0m0 9h0m0 43h0m1-56h0m0 4h0m0 50h0m1-45h0m0 1h0m0 45h0m0 8h0m0 4h0m1-69h0m0 2h0m0 1h0m0 10h0m0 43h0m1-44h0m0 39h0m0 8h0m0 23h0m1-75h0m0 44h0m1-51h0m0 10h0m0 41h0m0 1h0m0 20h0m1-73h0m0 6h0m0 50h0m0 5h0m1-57h0m0 1h0m0 5h0m0 45h0m0 13h0m1-11h0m0 4h0m0 1h0m0 3h0m0 13h0m1-80h0m0 12h0m0 46h0m0 5h0m0 2h0m0 1h0m0 3h0m0 4h0m0 5h0m1-68h0m0 4h0m0 9h0m0 33h0m0 5h0m1-67h0m0 12h0m0 3h0m0 6h0m0 3h0m0 4h0m0 38h0m0 6h0m0 3h0m0 4h0m1-67h0m0 7h0m0 48h0m0 4h0m0 1h0m0 5h0m1-66h0m0 9h0m0 42h0m0 7h0m0 1h0m1-66h0m0 57h0m1-49h0m0 9h0m0 40h0m0 11h0m0 4h0m1-70h0m0 7h0m0 48h0m0 5h0m0 4h0m1-9h0m0 7h0m0 1h0m0 3h0m0 4h0m1-67h0m0 6h0m0 5h0m0 41h0m1-42h0m0 77h0m1-83h0m0 7h0m0 53h0m1-70h0m0 2h0m0 13h0m0 49h0m0 20h0m1-83h0m0 9h0m0 5h0m0 59h0m1-57h0m0 53h0m0 8h0m1-77h0m0 9h0m0 54h0m0 1h0m0 7h0m1-68h0m0 14h0m0 58h0m0 9h0m1-74h0m0 2h0m0 5h0m0 46h0m0 7h0m0 5h0m1-93h0m0 3h0m0 20h0m0 18h0m0 1h0m0 36h0m0 8h0m1-85h0m0 40h0m0 1h0m0 5h0m0 1h0m0 30h0m0 4h0m1-48h0m0 8h0m0 1h0m0 4h0m0 30h0m0 1h0m0 11h0m1-63h0m0 2h0m0 2h0m0 5h0m0 2h0m0 3h0m0 7h0m0 1h0m0 31h0m0 5h0m0 1h0m1-68h0m0 9h0m0 3h0m0 1h0m0 7h0m1 0h0m0 47h0m0 6h0m1-75h0m0 6h0m0 10h0m0 44h0m0 4h0m0 8h0m0 2h0m1-60h0m0 1h0m0 45h0m0 7h0m0 1h0m0 6h0m0 2h0m1-71h0m0 54h0m0 1h0m0 16h0m1-71h0m0 13h0m0 46h0m1-45h0m0 39h0m0 1h0m0 14h0m1-65h0m0 6h0m0 1h0m0 48h0m0 4h0m1-9h0m0 1h0m0 4h0m0 2h0m0 1h0m0 1h0m0 5h0m1-72h0m0 15h0m0 51h0m0 6h0m1-63h0m0 8h0m0 1h0m0 7h0m0 39h0m0 1h0m0 10h0m0 8h0m1-91h0m0 15h0m0 4h0m0 3h0m0 3h0m0 2h0m0 5h0m0 1h0m0 34h0m0 5h0m1-49h0m0 1h0m0 2h0m0 1h0m0 1h0m0 43h0m0 8h0m0 7h0m1-75h0m0 14h0m0 41h0m0 5h0m1-45h0m0 47h0m0 4h0m0 1h0m1-65h0m0 6h0m0 7h0m0 47h0m0 10h0m1-74h0m0 15h0m0 47h0m0 4h0m1-61h0m0 7h0m0 49h0m0 1h0m0 16h0m1-65h0m0 3h0m0 4h0m0 42h0m0 7h0m0 6h0m1-66h0m0 5h0m0 7h0m0 39h0m0 5h0m0 5h0m0 7h0m1-71h0m0 5h0m0 6h0m0 42h0m0 6h0m0 1h0m0 3h0m0 1h0m0 14h0m1-68h0m0 43h0m0 1h0m0 7h0m0 1h0m0 4h0m0 4h0m1-56h0m0 39h0m0 1h0m0 4h0m1-45h0m0 44h0m1-44h0m0 37h0m0 1h0m0 5h0m0 15h0m1-58h0m0 5h0m0 1h0m0 31h0m0 11h0m0 1h0m0 2h0m0 6h0m1-52h0m0 33h0m0 1h0m0 6h0m0 1h0m0 6h0m1-54h0m0 8h0m0 34h0m0 1h0m1-53h0m0 7h0m0 7h0m0 39h0m0 1h0m0 17h0m1-64h0m0 8h0m0 1h0m1-11h0m0 13h0m0 35h0m0 6h0m0 5h0m1-57h0m0 10h0m0 1h0m0 37h0m0 4h0m0 11h0m1-71h0m0 3h0m0 8h0m0 48h0m0 5h0m1-73h0m0 10h0m0 18h0m0 49h0m1-75h0m0 16h0m0 1h0m0 1h0m0 5h0m0 46h0m0 11h0m0 9h0m1-84h0m0 11h0m0 2h0m0 1h0m0 37h0m0 4h0m0 7h0m0 2h0m1-86h0m0 20h0m0 5h0m0 14h0m0 1h0m0 33h0m0 5h0m0 5h0m0 2h0m0 4h0m1-68h0m0 7h0m0 12h0m0 41h0m1-60h0m0 18h0m0 43h0m1-47h0m0 46h0m0 5h0m1-60h0m0 3h0m0 3h0m0 3h0m0 4h0m0 1h0m0 43h0m1-55h0m0 50h0m0 1h0m1-73h0m0 19h0m0 2h0m0 5h0m0 46h0m0 12h0m0 6h0m1-7h0m0 10h0m1-20h0m0 1h0m0 8h0m0 19h0m1-78h0m0 2h0m0 4h0m0 48h0m1-51h0m0 48h0m1-57h0m0 51h0m0 1h0m0 5h0m0 6h0m0 1h0m0 5h0m1-8h0m1-63h0m0 3h0m0 6h0m0 5h0m0 41h0m0 3h0m0 2h0m0 4h0m0 3h0m0 1h0m0 2h0m1-61h0m0 4h0m0 36h0m0 1h0m0 5h0m0 1h0m0 5h0m0 1h0m0 12h0m1-70h0m0 7h0m0 6h0m0 38h0m0 7h0m0 10h0m1-70h0m0 8h0m0 3h0m0 5h0m0 36h0m0 1h0m1-44h0m0 2h0m0 41h0m0 6h0m0 2h0m0 9h0m1-58h0m0 43h0m0 4h0m0 3h0m1-51h0m0 6h0m0 1h0m0 7h0m0 42h0m1-49h0m0 1h0m0 6h0m0 40h0m0 3h0m1-66h0m0 5h0m0 1h0m0 6h0m0 1h0m0 3h0m0 7h0m0 1h0m0 29h0m0 1h0m0 6h0m0 6h0m1-66h0m0 7h0m0 3h0m0 5h0m0 38h0m0 1h0m0 4h0m1-57h0m0 10h0m0 44h0m0 5h0m0 7h0m1-58h0m0 7h0m0 40h0m1-57h0m0 70h0m1-70h0m0 6h0m0 51h0m0 1h0m0 6h0m1-2h0m1 7h0m1-63h0m0 2h0m0 1h0m0 4h0m0 48h0m0 5h0m1-3h0m1-56h0m0 53h0m0 1h0m1-77h0m0 28h0m1-13h0m0 2h0m0 66h0m1-60h0m0 45h0m0 9h0m0 1h0m0 12h0m1-70h0m0 2h0m0 5h0m0 1h0m0 50h0m1-64h0m0 12h0m0 2h0m0 3h0m0 5h0m0 31h0m0 6h0m0 14h0m1-64h0m0 3h0m0 10h0m0 34h0m0 13h0m0 11h0m1-77h0m0 15h0m0 4h0m0 1h0m0 38h0m0 5h0m1-61h0m0 55h0m0 2h0m1-60h0m0 10h0m0 43h0m0 1h0m0 6h0m0 3h0m1-52h0m0 51h0m1 12h0m0 10h0m1-90h0m0 7h0m0 9h0m0 5h0m0 3h0m0 6h0m0 33h0m0 4h0m0 2h0m1-65h0m0 16h0m0 2h0m0 2h0m0 1h0m0 4h0m0 32h0m0 1h0m0 5h0m1-49h0m0 4h0m0 3h0m0 4h0m0 41h0m0 1h0m1-69h0m0 9h0m0 50h0m0 1h0m0 6h0m0 4h0m1-58h0m0 4h0m0 45h0m0 1h0m0 6h0m0 13h0m1-74h0m0 7h0m0 51h0m0 20h0m1-70h0m0 1h0m0 45h0m0 5h0m1-61h0m0 10h0m1-7h0m0 2h0m0 7h0m0 43h0m0 12h0m1-8h0m1-58h0m0 4h0m0 3h0m0 4h0m0 1h0m0 48h0m0 1h0m1-62h0m1-4h0m0 9h0m0 6h0m0 46h0m0 1h0m1-53h0m0 1h0m0 6h0m0 45h0m0 11h0m0 5h0m1-63h0m0 49h0m0 21h0m1-74h0m0 54h0m0 1h0m1-58h0m0 8h0m0 48h0m0 10h0m1-75h0m0 14h0m0 50h0m2-47h0m0 45h0m0 2h0m0 2h0m0 1h0m0 5h0m0 1h0m0 13h0m1-74h0m0 7h0m0 1h0m0 33h0m0 1h0m0 9h0m0 10h0m0 1h0m0 2h0m1-68h0m0 4h0m0 3h0m0 48h0m0 1h0m0 16h0m1-68h0m0 44h0m0 1h0m0 11h0m1-48h0m0 37h0m0 1h0m0 11h0m1-54h0m0 1h0m0 47h0m0 3h0m0 8h0m1-57h0m0 49h0m1-50h0m0 42h0m0 8h0m0 14h0m1-76h0m0 63h0m0 5h0m0 7h0m1-88h0m0 16h0m0 3h0m0 1h0m0 48h0m0 8h0m0 9h0m0 17h0m1-32h0m0 9h0m0 3h0m1-88h0m0 23h0m0 52h0m0 5h0m0 5h0m1-69h0m0 2h0m0 8h0m0 56h0m0 5h0m0 8h0m1-63h0m0 45h0m0 1h0m0 13h0m1-75h0m0 3h0m0 57h0m0 14h0m1-66h0m0 6h0m0 1h0m0 45h0m0 15h0m0 6h0m1-79h0m0 64h0m1-74h0m0 10h0m0 3h0m0 4h0m0 7h0m0 1h0m0 3h0m0 1h0m0 4h0m0 34h0m0 12h0m1-54h0m0 2h0m0 1h0m0 6h0m1-18h0m0 5h0m0 6h0m0 1h0m0 39h0m0 14h0m1-64h0m0 4h0m0 3h0m0 4h0m0 5h0m0 1h0m0 36h0m0 4h0m0 7h0m0 22h0m1-83h0m0 3h0m0 7h0m0 40h0m0 6h0m0 2h0m1-70h0m0 13h0m0 1h0m0 3h0m0 4h0m0 41h0m0 4h0m1-83h0m0 31h0m0 2h0m1-11h0m0 2h0m0 2h0m0 4h0m0 46h0m0 23h0m1-24h0m0 15h0m1-61h0m0 48h0m0 4h0m1 0h0m0 14h0m1-15h0m0 2h0m1-57h0m0 5h0m0 46h0m0 8h0m0 2h0m1-70h0m0 17h0m0 4h0m0 38h0m0 1h0m0 18h0m1-65h0m0 52h0m0 19h0m1-67h0m0 49h0m1-75h0m0 22h0m0 64h0m0 1h0m0 2h0m1-66h0m0 2h0m0 1h0m0 4h0m0 44h0m0 6h0m1-59h0m0 4h0m0 50h0m0 1h0m1-81h0m0 22h0m0 13h0m0 45h0m0 1h0m1-52h0m0 50h0m0 8h0m1-64h0m0 6h0m0 56h0m0 3h0m0 1h0m1-70h0m0 6h0m0 5h0m0 45h0m0 4h0m0 6h0m0 3h0m1-59h0m0 6h0m0 3h0m0 2h0m0 1h0m0 4h0m0 1h0m0 36h0m1-59h0m0 8h0m0 1h0m0 2h0m0 1h0m0 1h0m0 2h0m0 8h0m0 35h0m0 1h0m1-62h0m0 3h0m0 13h0m0 2h0m0 3h0m0 4h0m0 1h0m0 30h0m0 1h0m1-51h0m0 6h0m0 2h0m0 7h0m0 4h0m0 1h0m0 31h0m0 4h0m0 5h0m0 1h0m1-79h0m0 18h0m0 11h0m0 2h0m1-31h0m0 15h0m0 1h0m0 10h0m0 51h0m0 5h0m0 8h0m1-76h0m0 13h0m0 44h0m0 1h0m1-65h0m0 13h0m1-12h0m0 5h0m0 11h0m0 1h0m0 40h0m0 1h0m0 4h0m0 2h0m0 4h0m1-65h0m0 7h0m0 1h0m0 1h0m0 7h0m0 2h0m0 3h0m0 1h0m0 4h0m0 1h0m0 25h0m0 1h0m0 7h0m0 16h0m1-80h0m0 9h0m0 5h0m0 1h0m0 1h0m0 7h0m0 8h0m0 32h0m0 3h0m0 9h0m1-63h0m0 1h0m0 9h0m0 8h0m0 1h0m0 31h0m0 5h0m1-77h0m0 7h0m0 16h0m0 8h0m0 1h0m0 5h0m0 35h0m0 1h0m0 5h0m0 5h0m0 5h0m0 1h0m1-63h0m0 3h0m0 1h0m0 4h0m0 1h0m0 37h0m0 1h0m0 5h0m1-62h0m0 2h0m0 6h0m0 4h0m0 2h0m0 4h0m0 48h0m1-72h0m0 13h0m0 2h0m0 9h0m0 46h0m0 12h0m1-64h0m0 7h0m0 38h0m0 5h0m0 2h0m0 1h0m1-63h0m0 55h0m0 26h0m1-97h0m0 13h0m0 12h0m0 45h0m0 5h0m1-54h0m0 48h0m0 5h0m0 13h0m1-88h0m0 17h0m0 64h0m1-67h0m0 3h0m0 6h0m0 48h0m0 5h0m1-88h0m0 32h0m0 57h0m1-55h0m0 4h0m1-13h0m0 7h0m0 2h0m0 50h0m1-62h0m0 3h0m0 62h0m0 5h0m0 1h0m1-65h0m1 5h0m0 1h0m0 51h0m0 17h0m1-79h0m0 10h0m0 49h0m0 2h0m0 1h0m1-52h0m0 2h0m0 3h0m0 4h0m0 35h0m0 5h0m0 5h0m0 18h0m1-67h0m0 4h0m0 34h0m0 8h0m0 3h0m0 1h0m0 23h0m1-104h0m0 26h0m0 1h0m0 9h0m0 48h0m0 7h0m1-75h0m0 14h0m0 1h0m0 5h0m0 47h0m1-90h0m0 32h0m0 1h0m0 52h0m0 1h0m1-56h0m0 53h0m0 13h0m1-65h0m0 7h0m0 46h0m0 6h0m0 1h0m0 3h0m0 17h0m1-78h0m0 5h0m0 46h0m1-51h0m0 4h0m0 1h0m0 59h0m1-73h0m0 4h0m0 2h0m0 1h0m0 6h0m0 5h0m0 43h0m1-62h0m0 7h0m0 3h0m0 2h0m0 7h0m0 1h0m0 48h0m0 7h0m1-70h0m0 14h0m0 45h0m0 11h0m1-83h0m0 2h0m0 15h0m0 5h0m0 5h0m0 44h0m0 6h0m1-7h0m1 4h0m1-51h0m0 2h0m0 3h0m0 6h0m0 33h0m0 7h0m0 1h0m0 12h0m1-88h0m0 16h0m0 2h0m0 3h0m0 8h0m0 5h0m0 35h0m0 4h0m0 13h0m1-75h0m0 7h0m0 9h0m0 2h0m0 55h0m1-58h0m0 1h0m0 1h0m0 1h0m0 4h0m0 40h0m1-56h0m0 52h0m1-53h0m0 4h0m0 53h0m0 2h0m0 13h0m1-77h0m0 68h0m1-59h0m0 57h0m0 5h0m1-7h0m1-68h0m0 3h0m0 4h0m0 4h0m0 54h0m1-79h0m0 22h0m0 4h0m1 1h0m0 53h0m0 5h0m1-54h0m0 6h0m0 54h0m1-65h0m0 12h0m0 49h0m0 12h0m1-79h0m0 9h0m0 8h0m0 43h0m1-57h0m0 5h0m0 8h0m0 1h0m1-30h0m0 24h0m0 1h0m0 49h0m0 7h0m1-54h0m0 4h0m0 42h0m1-57h0m0 11h0m0 4h0m0 64h0m1-71h0m0 1h0m0 1h0m0 4h0m1-13h0m0 5h0m0 3h0m0 6h0m0 40h0m1-74h0m0 10h0m0 14h0m0 1h0m0 2h0m0 1h0m0 1h0m0 5h0m1 38h0m0 10h0m1-66h0m0 3h0m0 53h0m0 1h0m0 23h0m1-84h0m0 12h0m0 51h0m0 11h0m1-59h0m0 1h0m0 46h0m0 4h0m1-48h0m0 54h0m1-70h0m0 7h0m0 10h0m0 43h0m0 5h0m0 13h0m1-68h0m0 2h0m0 4h0m0 1h0m0 43h0m0 1h0m1-69h0m1 18h0m0 6h0m0 45h0m0 1h0m0 4h0m0 1h0m0 3h0m1-77h0m0 6h0m0 8h0m0 3h0m0 44h0m0 1h0m0 8h0m0 15h0m1-69h0m0 1h0m0 6h0m0 38h0m0 1h0m0 4h0m0 3h0m0 1h0m1-56h0m0 4h0m0 5h0m0 39h0m0 18h0m0 2h0m1-68h0m0 10h0m0 40h0m0 9h0m1-65h0m0 9h0m0 2h0m0 5h0m0 39h0m0 6h0m1-55h0m0 5h0m0 4h0m0 1h0m0 41h0m0 8h0m1-66h0m0 5h0m0 6h0m1 1h0m0 43h0m0 1h0m0 4h0m0 16h0m0 6h0m1-78h0m0 1h0m0 1h0m0 2h0m0 60h0m1-58h0m0 1h0m0 1h0m0 4h0m0 1h0m1-8h0m0 1h0m0 6h0m0 40h0m0 7h0m0 5h0m1-77h0m0 15h0m0 60h0m0 1h0m0 8h0m1-71h0m0 58h0m0 6h0m0 2h0m1-62h0m0 1h0m0 55h0m0 10h0m2-80h0m0 12h0m0 57h0m0 7h0m2-58h0m0 1h0m0 43h0m1-57h0m0 9h0m0 5h0m0 46h0m1-5h0m0 20h0m0 10h0m1-83h0m0 3h0m0 8h0m0 43h0m0 15h0m1-69h0m0 5h0m0 50h0m0 4h0m0 9h0m0 1h0m0 6h0m1-73h0m0 73h0m1-78h0m0 62h0m0 2h0m0 4h0m1-63h0m0 3h0m0 4h0m0 1h0m0 49h0m1-52h0m0 7h0m0 38h0m0 7h0m0 1h0m1-60h0m0 9h0m0 7h0m0 1h0m0 36h0m0 7h0m0 17h0m1-91h0m0 6h0m0 11h0m0 5h0m0 2h0m0 2h0m0 12h0m0 38h0m0 2h0m0 5h0m0 1h0m0 3h0m1-75h0m0 6h0m0 8h0m0 4h0m0 2h0m0 1h0m0 5h0m0 1h0m0 31h0m0 6h0m0 5h0m1-66h0m0 4h0m0 3h0m0 6h0m0 2h0m0 1h0m0 8h0m0 15h0m0 5h0m0 2h0m0 1h0m0 1h0m0 2h0m0 1h0m0 1h0m0 4h0m0 3h0m0 5h0m0 4h0m1-64h0m0 3h0m0 3h0m0 1h0m0 2h0m0 3h0m0 1h0m0 5h0m0 1h0m0 17h0m0 4h0m0 2h0m0 5h0m0 5h0m0 8h0m1-64h0m0 45h0m0 1h0m0 6h0m0 1h0m0 5h0m0 1h0m0 10h0m1-81h0m0 12h0m0 49h0m0 6h0m0 2h0m0 4h0m0 1h0m1-12h0m0 5h0m0 1h0m0 7h0m0 1h0m1-63h0m0 48h0m0 1h0m0 4h0m0 2h0m0 2h0m1-63h0m0 71h0m0 9h0m1-71h0m0 1h0m0 11h0m0 47h0m0 9h0m1-75h0m0 7h0m0 6h0m0 1h0m0 43h0m0 4h0m0 1h0m1-56h0m0 7h0m0 1h0m0 4h0m0 1h0m0 4h0m0 33h0m0 7h0m0 3h0m0 1h0m1-75h0m0 11h0m0 5h0m0 1h0m0 2h0m0 5h0m0 1h0m0 2h0m0 35h0m0 9h0m1-73h0m0 12h0m0 8h0m0 2h0m0 1h0m0 11h0m0 29h0m0 6h0m0 6h0m0 7h0m0 10h0m1-73h0m0 10h0m0 4h0m0 30h0m0 7h0m0 3h0m0 8h0m0 10h0m1-86h0m0 10h0m0 10h0m0 9h0m0 23h0m0 8h0m0 1h0m0 2h0m0 2h0m0 2h0m1-69h0m0 14h0m0 6h0m0 1h0m0 34h0m0 5h0m0 9h0m0 4h0m0 2h0m0 13h0m1-76h0m0 10h0m0 1h0m0 32h0m0 4h0m0 2h0m0 6h0m0 12h0m0 5h0m1-16h0m0 1h0m0 8h0m1-64h0m0 11h0m0 47h0m1-70h0m0 18h0m0 1h0m0 5h0m0 47h0m0 1h0m0 6h0m0 8h0m1-74h0m0 1h0m0 2h0m0 9h0m0 31h0m0 6h0m0 2h0m0 3h0m0 2h0m1-61h0m0 3h0m0 8h0m0 38h0m0 5h0m0 1h0m0 1h0m0 2h0m0 11h0m0 9h0m1-85h0m0 11h0m0 2h0m0 5h0m0 30h0m0 1h0m0 4h0m0 1h0m0 2h0m0 4h0m0 2h0m0 3h0m1-54h0m0 6h0m0 36h0m0 2h0m0 2h0m0 1h0m0 2h0m0 10h0m0 6h0m0 9h0m1-73h0m0 3h0m0 41h0m0 3h0m0 7h0m0 3h0m0 9h0m0 2h0m1-80h0m0 10h0m0 7h0m0 4h0m0 38h0m0 12h0m0 15h0m0 4h0m1-89h0m0 15h0m0 42h0m0 5h0m0 10h0m1-60h0m0 5h0m0 46h0m0 3h0m0 5h0m0 10h0m0 5h0m1-70h0m0 1h0m0 55h0m0 9h0m1-87h0m0 15h0m0 12h0m0 3h0m0 3h0m0 5h0m0 47h0m0 12h0m1-76h0m0 5h0m0 2h0m0 3h0m0 2h0m0 1h0m0 4h0m0 1h0m0 32h0m0 1h0m0 5h0m1-78h0m0 15h0m0 9h0m0 1h0m0 1h0m0 3h0m0 1h0m0 1h0m0 3h0m0 48h0m1-71h0m0 10h0m0 1h0m1-13h0m0 8h0m0 1h0m0 60h0m0 3h0m0 4h0m1-72h0m0 52h0m0 1h0m0 5h0m1-75h0m0 22h0m0 5h0m0 47h0m0 1h0m0 2h0m0 10h0m1-58h0m0 40h0m0 1h0m0 5h0m0 4h0m0 1h0m0 4h0m0 11h0m1-79h0m0 14h0m0 8h0m0 39h0m0 4h0m0 2h0m0 1h0m0 17h0m1-79h0m0 2h0m0 5h0m0 2h0m0 2h0m0 6h0m1-39h0m0 30h0m0 39h0m0 5h0m0 2h0m0 20h0m1-88h0m0 4h0m0 7h0m0 1h0m0 7h0m0 5h0m0 6h0m0 1h0m0 30h0m0 9h0m0 11h0m1-84h0m0 3h0m0 8h0m0 11h0m0 2h0m0 1h0m0 1h0m0 1h0m0 41h0m0 2h0m0 1h0m0 3h0m1-73h0m0 9h0m0 13h0m0 2h0m0 1h0m0 4h0m1-7h0m0 3h0m0 4h0m0 2h0m0 1h0m0 2h0m0 2h0m0 1h0m0 1h0m0 2h0m0 7h0m0 17h0m0 6h0m0 3h0m0 9h0m0 9h0m1-68h0m0 7h0m0 2h0m0 2h0m0 2h0m0 1h0m0 3h0m0 2h0m0 5h0m0 1h0m0 16h0m0 1h0m0 4h0m0 3h0m0 6h0m0 43h0m1-111h0m0 8h0m0 3h0m0 1h0m0 5h0m0 5h0m0 1h0m0 1h0m0 1h0m0 2h0m0 2h0m0 2h0m0 1h0m0 6h0m0 34h0m0 6h0m1-83h0m0 2h0m0 8h0m0 1h0m0 5h0m0 1h0m0 5h0m0 38h0m0 1h0m0 4h0m0 13h0m1-74h0m0 1h0m0 2h0m0 9h0m0 44h0m0 6h0m0 3h0m0 3h0m1-71h0m0 7h0m0 6h0m0 2h0m0 5h0m0 39h0m0 8h0m1-64h0m0 9h0m0 46h0m0 1h0m0 9h0m0 5h0m0 7h0m0 19h0m1-98h0m0 59h0m0 6h0m0 1h0m1-5h0m0 4h0m0 2h0m0 7h0m1-62h0m0 49h0m0 6h0m0 1h0m0 2h0m1-58h0m1-6h0m0 8h0m0 11h0m0 7h0m0 1h0m0 36h0m0 12h0m1-62h0m0 4h0m0 1h0m0 2h0m0 7h0m0 27h0m0 1h0m0 6h0m0 2h0m1-64h0m0 6h0m0 2h0m0 5h0m0 2h0m0 2h0m0 2h0m0 1h0m0 3h0m0 4h0m0 28h0m0 5h0m0 2h0m0 3h0m1-59h0m0 46h0m0 8h0m0 1h0m0 5h0m1-67h0m0 8h0m0 5h0m0 1h0m0 39h0m0 6h0m0 1h0m0 1h0m0 6h0m0 10h0m1-78h0m0 10h0m0 12h0m0 3h0m0 5h0m0 12h0m0 4h0m0 4h0m0 3h0m0 17h0"/></g>
<path fill="#070707" d="M149 107H1081v2H149zM149 422H1081v2H149zM149 107h2V424h-2zM1079 107h2V424h-2zM149 485H1081v2H149zM149 800H1081v2H149zM149 485h2V802h-2zM1079 485h2V802h-2z"/>
<path fill="#2a2a2a" d="M143 107h6v2h-6zM143 164h6v2h-6zM143 222h6v2h-6zM143 279h6v2h-6zM143 336h6v2h-6zM143 393h6v2h-6zM143 485h6v2h-6zM143 548h6v2h-6zM143 611h6v2h-6zM143 674h6v2h-6zM143 737h6v2h-6zM143 800h6v2h-6zM1081 146h6v2h-6zM1081 204h6v2h-6zM1081 261h6v2h-6zM1081 318h6v2h-6zM1081 375h6v2h-6zM1081 512h6v2h-6zM1081 575h6v2h-6zM1081 638h6v2h-6zM1081 701h6v2h-6zM1081 764h6v2h-6zM236 424h2v6h-2zM236 802h2v6h-2zM389 424h2v6h-2zM389 802h2v6h-2zM542 424h2v6h-2zM542 802h2v6h-2zM694 424h2v6h-2zM694 802h2v6h-2zM847 424h2v6h-2zM847 802h2v6h-2zM1000 424h2v6h-2zM1000 802h2v6h-2z"/>
<path fill="none" stroke="#1f77b4" stroke-width="3.2" stroke-linecap="round" d="M893.5 135.5h0M190.5 771.5h0"/>
<g><text transform="matrix(0.21055 0 0 0.22166 226 453.5)" x="-7.882 54.83" y="0">17</text><text transform="matrix(0.21332 0 0 0.22065 379 453.46)" x="-8.254 53.57" y="0">18</text><text transform="matrix(0.21613 0 0 0.22065 531.75 453.46)" x="-8.489 52.36" y="0">19</text><text transform="matrix(0.21483 0 0 0.22065 683.75 453.46)" x="-5.458 57.25" y="0">20</text><text transform="matrix(0.2079 0 0 0.22129 836.5 453.5)" x="-4.928 58.8" y="0">21</text><text transform="matrix(0.21031 0 0 0.22129 989.25 453.5)" x="-5.029 57.59" y="0">22</text><text transform="matrix(0.21573 0 0 0.22065 110.75 402.21)" x="-5.384 55.81" y="0">70</text><text transform="matrix(0.21881 0 0 0.22065 110.5 344.96)" x="-4.218 55.82" y="0">80</text><text transform="matrix(0.22022 0 0 0.22065 110.25 287.71)" x="-4.307 55.38" y="0">90</text><text transform="matrix(0.21599 0 0 0.22065 98 230.46)" x="-8.294 53.41 114.6" y="0">100</text><text transform="matrix(0.21272 0 0 0.22065 98 173.21)" x="-7.973 54.18 116.8" y="0">110</text><text transform="matrix(0.2133 0 0 0.22065 98 115.96)" x="-8.031 53.15 116.4" y="0">120</text><text transform="matrix(0 -0.22383 0.22139 0 81.754 352.6)" x="-1.78 58.25 118.5 207.7 265.5 326.1 357.3 421.4 455.3 517.1 552.2 609.4 637.1 673.7 739.7" y="0 0 0 0 0 0 0 0 0 0 0 0 -3.71 0 -3.71">Temperature (K)</text><text transform="matrix(0.26699 0 0 0.26764 370.3 95.496)" x="-9.213 53.76 86.56 158 182.7 246.4 275.5 348.9 409.7 443.6 499.8 556 589.6 650.5 685.8 712.8 773.3 834.2 923.9 982.3 1043 1075 1139 1174 1236 1271 1329 1359 1420 1479 1539 1599 1658 1717 1777" y="0 0.711 0 0 0 0 0 0 0 0 0 0 0 0 0 0 0 0 0 0 0 0 0 0 0 0 0 0 0 0 0 0 0 0 0">S-HIS Detector Temperature 20030122</text><text transform="matrix(0.21055 0 0 0.22166 226 831.5)" x="-7.882 54.83" y="0">17</text><text transform="matrix(0.21332 0 0 0.22065 379 831.46)" x="-8.254 53.57" y="0">18</text><text transform="matrix(0.21613 0 0 0.22065 531.75 831.46)" x="-8.489 52.36" y="0">19</text><text transform="matrix(0.21483 0 0 0.22065 683.75 831.46)" x="-5.458 57.25" y="0">20</text><text transform="matrix(0.2079 0 0 0.22129 836.5 831.5)" x="-4.928 58.8" y="0">21</text><text transform="matrix(0.21031 0 0 0.22129 989.25 831.5)" x="-5.029 57.59" y="0">22</text><text transform="matrix(0.21573 0 0 0.22065 110.75 808.96)" x="-5.384 55.81" y="0">70</text><text transform="matrix(0.21123 0 0 0.22129 110.75 746)" x="-4.959 56.1" y="0">72</text><text transform="matrix(0.21385 0 0 0.22166 110.75 683)" x="-5.392 55.77" y="0">74</text><text transform="matrix(0.21886 0 0 0.22065 110.75 619.96)" x="-5.773 54.37" y="0">76</text><text transform="matrix(0.21495 0 0 0.22065 110.75 556.96)" x="-5.506 55.36" y="0">78</text><text transform="matrix(0.21881 0 0 0.22065 110.5 493.96)" x="-4.218 55.82" y="0">80</text><text transform="matrix(0.21824 0 0 0.21986 523 860.01)" x="-7.252 68.27 149.8 210.8 238.5 300.4 329.9 419.6 477.9 506.5 546.8 606.3 665.5 728.7 763.7 817.4" y="0 0 0 0 0 0 0 0 0 -3.71 0 0 0 0 0 -3.71">GMT Time (hours)</text><text transform="matrix(0 -0.22357 0.22194 0 95.893 730.8)" x="-1.78 58.25 118.5 207.7 265.5 326.1 357.3 421.4 455.3 517.1 552.2 609.4 637.1 673.7 739.7" y="0 0 0 0 0 0 0 0 0 0 0 0 -3.71 0 -3.71">Temperature (K)</text><text transform="matrix(0.22858 0 0 0.22065 1097 384.21)" x="-0.8987 66 124.8 182.4" y="3.67 0 0 0">−200</text><text transform="matrix(0.23025 0 0 0.22065 1097 326.96)" x="-1.104 65.95 123.4 180.8" y="3.67 0 0 0">−190</text><text transform="matrix(0.23009 0 0 0.22065 1097 269.71)" x="-0.9532 66.46 124.5 181.9" y="3.67 0 0 0">−180</text><text transform="matrix(0.2284 0 0 0.22065 1097 212.46)" x="-0.7442 67.17 125.4 183.5" y="3.67 0 0 0">−170</text><text transform="matrix(0.23144 0 0 0.22065 1097 155.21)" x="-1.118 65.91 123.6 180.7" y="3.67 0 0 0">−160</text><text transform="matrix(0 -0.184 0.2201 0 1177.5 281.25)" x="-6.874 36.73 120.3" y="-3.71 0 -3.71">(C)</text><text transform="matrix(0.22764 0 0 0.22065 1097 772.71)" x="-0.6755 66.74 126 182.8" y="3.67 0 0 0">−202</text><text transform="matrix(0.22858 0 0 0.22065 1097 709.71)" x="-0.8987 66 124.8 182.4" y="3.67 0 0 0">−200</text><text transform="matrix(0.23108 0 0 0.22065 1097 646.71)" x="-1.184 65.68 123 180.2" y="3.67 0 0 0">−198</text><text transform="matrix(0.23305 0 0 0.22065 1097 583.71)" x="-1.349 65.12 122.1 179" y="3.67 0 0 0">−196</text><text transform="matrix(0.23025 0 0 0.22065 1097 520.71)" x="-1.085 66.02 123.5 181" y="3.67 0 0 0">−194</text><text transform="matrix(0 -0.184 0.2201 0 1177.5 659.25)" x="-6.874 36.73 120.3" y="-3.71 0 -3.71">(C)</text></g>
</svg></body></html>
